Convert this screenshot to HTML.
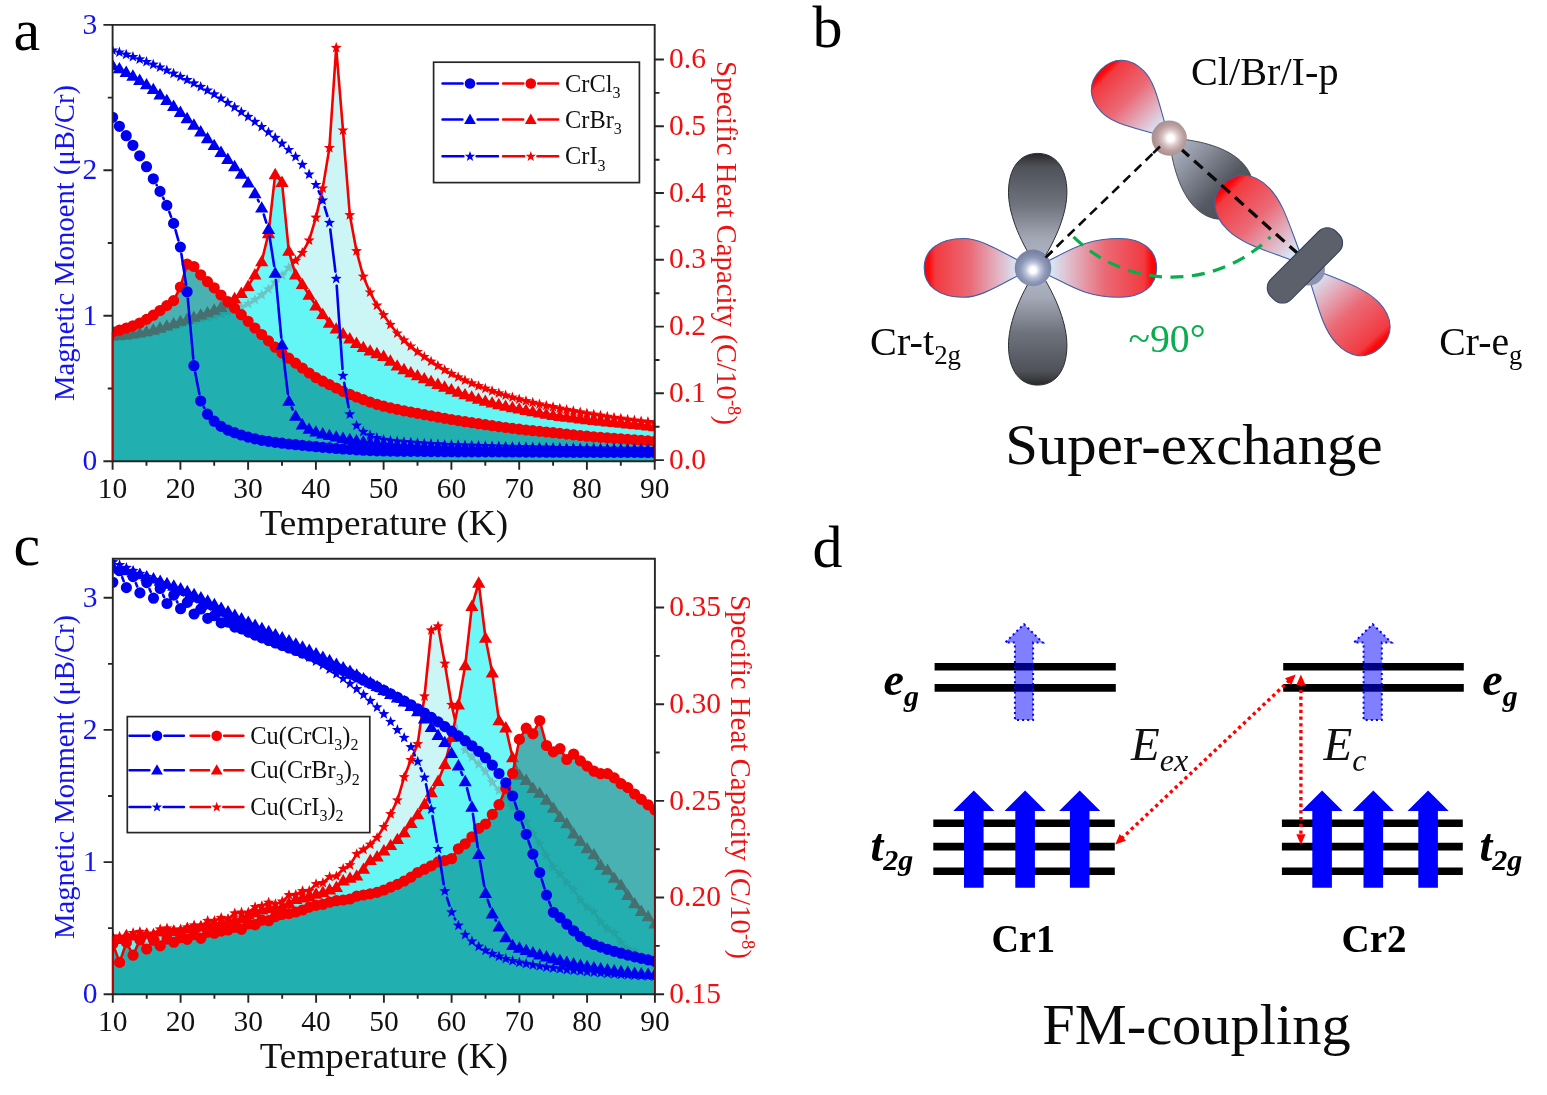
<!DOCTYPE html>
<html><head><meta charset="utf-8"><title>Figure</title>
<style>html,body{margin:0;padding:0;background:#fff}svg{display:block}</style></head>
<body>
<svg width="1547" height="1095" viewBox="0 0 1547 1095" font-family='"Liberation Serif", serif'>
<rect width="1547" height="1095" fill="#fff"/>
<clipPath id="clipa"><rect x="112.6" y="24.9" width="542.1" height="436.3"/></clipPath>
<g clip-path="url(#clipa)">
<path d="M112.6 461.2L112.6 337.6L119.4 337.0L126.2 336.2L132.9 335.2L139.7 334.1L146.5 332.9L153.3 331.5L160.0 329.6L166.8 327.6L173.6 325.6L180.4 323.8L187.1 322.1L193.9 320.6L200.7 319.1L207.5 317.5L214.2 315.8L221.0 313.7L227.8 311.5L234.6 309.2L241.3 307.0L248.1 303.7L254.9 299.7L261.7 295.0L268.5 289.2L275.2 282.6L282.0 275.3L288.8 267.8L295.6 260.6L302.3 252.8L309.1 240.4L315.9 217.6L322.7 188.4L329.4 147.9L336.2 47.7L343.0 130.3L349.8 215.0L356.5 251.0L363.3 276.5L370.1 292.4L376.9 305.4L383.6 315.0L390.4 324.7L397.2 333.4L404.0 340.3L410.8 346.3L417.5 351.8L424.3 356.9L431.1 361.5L437.9 365.8L444.6 370.0L451.4 373.8L458.2 377.2L465.0 380.3L471.7 383.3L478.5 386.1L485.3 388.6L492.1 391.0L498.8 393.3L505.6 395.4L512.4 397.4L519.2 399.2L526.0 401.0L532.7 402.6L539.5 404.2L546.3 405.7L553.1 407.1L559.8 408.5L566.6 409.8L573.4 411.0L580.2 412.2L586.9 413.4L593.7 414.5L600.5 415.6L607.3 416.6L614.0 417.6L620.8 418.6L627.6 419.5L634.4 420.3L641.1 421.2L647.9 421.9L654.7 422.7L654.7 461.2Z" fill="rgba(0,205,205,0.2)"/>
<path d="M112.6 337.6L119.4 337.0L126.2 336.2L132.9 335.2L139.7 334.1L146.5 332.9L153.3 331.5L160.0 329.6L166.8 327.6L173.6 325.6L180.4 323.8L187.1 322.1L193.9 320.6L200.7 319.1L207.5 317.5L214.2 315.8L221.0 313.7L227.8 311.5L234.6 309.2L241.3 307.0L248.1 303.7L254.9 299.7L261.7 295.0L268.5 289.2L275.2 282.6L282.0 275.3L288.8 267.8L295.6 260.6L302.3 252.8L309.1 240.4L315.9 217.6L322.7 188.4L329.4 147.9L336.2 47.7L343.0 130.3L349.8 215.0L356.5 251.0L363.3 276.5L370.1 292.4L376.9 305.4L383.6 315.0L390.4 324.7L397.2 333.4L404.0 340.3L410.8 346.3L417.5 351.8L424.3 356.9L431.1 361.5L437.9 365.8L444.6 370.0L451.4 373.8L458.2 377.2L465.0 380.3L471.7 383.3L478.5 386.1L485.3 388.6L492.1 391.0L498.8 393.3L505.6 395.4L512.4 397.4L519.2 399.2L526.0 401.0L532.7 402.6L539.5 404.2L546.3 405.7L553.1 407.1L559.8 408.5L566.6 409.8L573.4 411.0L580.2 412.2L586.9 413.4L593.7 414.5L600.5 415.6L607.3 416.6L614.0 417.6L620.8 418.6L627.6 419.5L634.4 420.3L641.1 421.2L647.9 421.9L654.7 422.7" fill="none" stroke="#f40000" stroke-width="2.6" stroke-linejoin="round"/>
<path d="M112.6 331.8L114.0 335.6L118.1 335.8L114.9 338.3L116.0 342.3L112.6 340.0L109.2 342.3L110.3 338.3L107.1 335.8L111.2 335.6ZM119.4 331.2L120.8 335.0L124.9 335.2L121.7 337.7L122.8 341.7L119.4 339.4L116.0 341.7L117.0 337.7L113.9 335.2L117.9 335.0ZM126.2 330.4L127.6 334.2L131.7 334.4L128.5 336.9L129.6 340.9L126.2 338.6L122.7 340.9L123.8 336.9L120.6 334.4L124.7 334.2ZM132.9 329.4L134.4 333.2L138.4 333.4L135.3 336.0L136.3 339.9L132.9 337.7L129.5 339.9L130.6 336.0L127.4 333.4L131.5 333.2ZM139.7 328.3L141.1 332.1L145.2 332.3L142.0 334.9L143.1 338.8L139.7 336.6L136.3 338.8L137.4 334.9L134.2 332.3L138.3 332.1ZM146.5 327.1L147.9 330.9L152.0 331.1L148.8 333.7L149.9 337.6L146.5 335.4L143.1 337.6L144.2 333.7L141.0 331.1L145.0 330.9ZM153.3 325.7L154.7 329.5L158.8 329.7L155.6 332.2L156.7 336.2L153.3 333.9L149.8 336.2L150.9 332.2L147.7 329.7L151.8 329.5ZM160.0 323.8L161.5 327.7L165.5 327.8L162.4 330.4L163.4 334.3L160.0 332.1L156.6 334.3L157.7 330.4L154.5 327.8L158.6 327.7ZM166.8 321.8L168.3 325.6L172.3 325.8L169.1 328.4L170.2 332.3L166.8 330.1L163.4 332.3L164.5 328.4L161.3 325.8L165.4 325.6ZM173.6 319.8L175.0 323.6L179.1 323.8L175.9 326.4L177.0 330.3L173.6 328.1L170.2 330.3L171.3 326.4L168.1 323.8L172.1 323.6ZM180.4 318.0L181.8 321.8L185.9 322.0L182.7 324.5L183.8 328.5L180.4 326.2L177.0 328.5L178.0 324.5L174.8 322.0L178.9 321.8ZM187.1 316.3L188.6 320.2L192.7 320.3L189.5 322.9L190.5 326.8L187.1 324.6L183.7 326.8L184.8 322.9L181.6 320.3L185.7 320.2ZM193.9 314.8L195.4 318.6L199.4 318.8L196.2 321.4L197.3 325.3L193.9 323.1L190.5 325.3L191.6 321.4L188.4 318.8L192.5 318.6ZM200.7 313.3L202.1 317.1L206.2 317.3L203.0 319.9L204.1 323.8L200.7 321.6L197.3 323.8L198.4 319.9L195.2 317.3L199.3 317.1ZM207.5 311.7L208.9 315.5L213.0 315.7L209.8 318.3L210.9 322.2L207.5 320.0L204.1 322.2L205.1 318.3L202.0 315.7L206.0 315.5ZM214.2 310.0L215.7 313.8L219.8 314.0L216.6 316.5L217.7 320.5L214.2 318.2L210.8 320.5L211.9 316.5L208.7 314.0L212.8 313.8ZM221.0 307.9L222.5 311.7L226.5 311.9L223.4 314.5L224.4 318.4L221.0 316.2L217.6 318.4L218.7 314.5L215.5 311.9L219.6 311.7ZM227.8 305.7L229.2 309.5L233.3 309.7L230.1 312.2L231.2 316.2L227.8 313.9L224.4 316.2L225.5 312.2L222.3 309.7L226.4 309.5ZM234.6 303.4L236.0 307.2L240.1 307.4L236.9 310.0L238.0 313.9L234.6 311.7L231.2 313.9L232.2 310.0L229.1 307.4L233.1 307.2ZM241.3 301.2L242.8 305.1L246.9 305.2L243.7 307.8L244.8 311.7L241.3 309.5L237.9 311.7L239.0 307.8L235.8 305.2L239.9 305.1ZM248.1 297.9L249.6 301.7L253.6 301.9L250.5 304.5L251.5 308.4L248.1 306.1L244.7 308.4L245.8 304.5L242.6 301.9L246.7 301.7ZM254.9 293.9L256.3 297.7L260.4 297.9L257.2 300.4L258.3 304.4L254.9 302.1L251.5 304.4L252.6 300.4L249.4 297.9L253.5 297.7ZM261.7 289.2L263.1 293.0L267.2 293.2L264.0 295.7L265.1 299.7L261.7 297.4L258.3 299.7L259.3 295.7L256.2 293.2L260.2 293.0ZM268.5 283.4L269.9 287.2L274.0 287.4L270.8 290.0L271.9 293.9L268.5 291.6L265.0 293.9L266.1 290.0L262.9 287.4L267.0 287.2ZM275.2 276.8L276.7 280.6L280.7 280.8L277.6 283.4L278.6 287.3L275.2 285.1L271.8 287.3L272.9 283.4L269.7 280.8L273.8 280.6ZM282.0 269.5L283.4 273.3L287.5 273.5L284.3 276.1L285.4 280.0L282.0 277.8L278.6 280.0L279.7 276.1L276.5 273.5L280.6 273.3ZM288.8 262.0L290.2 265.8L294.3 266.0L291.1 268.5L292.2 272.5L288.8 270.2L285.4 272.5L286.5 268.5L283.3 266.0L287.3 265.8ZM295.6 254.8L297.0 258.7L301.1 258.9L297.9 261.4L299.0 265.3L295.6 263.1L292.1 265.3L293.2 261.4L290.0 258.9L294.1 258.7ZM302.3 247.0L303.8 250.8L307.9 251.0L304.7 253.6L305.7 257.5L302.3 255.2L298.9 257.5L300.0 253.6L296.8 251.0L300.9 250.8ZM309.1 234.6L310.6 238.5L314.6 238.6L311.4 241.2L312.5 245.1L309.1 242.9L305.7 245.1L306.8 241.2L303.6 238.6L307.7 238.5ZM315.9 211.8L317.3 215.6L321.4 215.8L318.2 218.4L319.3 222.3L315.9 220.0L312.5 222.3L313.6 218.4L310.4 215.8L314.4 215.6ZM322.7 182.6L324.1 186.4L328.2 186.6L325.0 189.1L326.1 193.1L322.7 190.8L319.3 193.1L320.3 189.1L317.1 186.6L321.2 186.4ZM329.4 142.1L330.9 146.0L335.0 146.1L331.8 148.7L332.8 152.6L329.4 150.4L326.0 152.6L327.1 148.7L323.9 146.1L328.0 146.0ZM336.2 41.9L337.7 45.8L341.7 45.9L338.5 48.5L339.6 52.4L336.2 50.2L332.8 52.4L333.9 48.5L330.7 45.9L334.8 45.8ZM343.0 124.5L344.4 128.4L348.5 128.5L345.3 131.1L346.4 135.0L343.0 132.8L339.6 135.0L340.7 131.1L337.5 128.5L341.6 128.4ZM349.8 209.2L351.2 213.0L355.3 213.2L352.1 215.7L353.2 219.7L349.8 217.4L346.4 219.7L347.4 215.7L344.3 213.2L348.3 213.0ZM356.5 245.2L358.0 249.1L362.1 249.3L358.9 251.8L360.0 255.7L356.5 253.5L353.1 255.7L354.2 251.8L351.0 249.3L355.1 249.1ZM363.3 270.7L364.8 274.5L368.8 274.7L365.7 277.3L366.7 281.2L363.3 278.9L359.9 281.2L361.0 277.3L357.8 274.7L361.9 274.5ZM370.1 286.6L371.5 290.4L375.6 290.6L372.4 293.1L373.5 297.0L370.1 294.8L366.7 297.0L367.8 293.1L364.6 290.6L368.7 290.4ZM376.9 299.6L378.3 303.5L382.4 303.6L379.2 306.2L380.3 310.1L376.9 307.9L373.5 310.1L374.5 306.2L371.4 303.6L375.4 303.5ZM383.6 309.2L385.1 313.1L389.2 313.2L386.0 315.8L387.1 319.7L383.6 317.5L380.2 319.7L381.3 315.8L378.1 313.2L382.2 313.1ZM390.4 318.9L391.9 322.7L395.9 322.9L392.8 325.4L393.8 329.4L390.4 327.1L387.0 329.4L388.1 325.4L384.9 322.9L389.0 322.7ZM397.2 327.6L398.6 331.4L402.7 331.6L399.5 334.1L400.6 338.1L397.2 335.8L393.8 338.1L394.9 334.1L391.7 331.6L395.8 331.4ZM404.0 334.5L405.4 338.3L409.5 338.5L406.3 341.0L407.4 345.0L404.0 342.7L400.6 345.0L401.6 341.0L398.5 338.5L402.5 338.3ZM410.8 340.5L412.2 344.4L416.3 344.6L413.1 347.1L414.2 351.0L410.8 348.8L407.3 351.0L408.4 347.1L405.2 344.6L409.3 344.4ZM417.5 346.0L419.0 349.9L423.0 350.0L419.9 352.6L420.9 356.5L417.5 354.3L414.1 356.5L415.2 352.6L412.0 350.0L416.1 349.9ZM424.3 351.1L425.7 354.9L429.8 355.1L426.6 357.6L427.7 361.6L424.3 359.3L420.9 361.6L422.0 357.6L418.8 355.1L422.9 354.9ZM431.1 355.7L432.5 359.5L436.6 359.7L433.4 362.2L434.5 366.1L431.1 363.9L427.7 366.1L428.8 362.2L425.6 359.7L429.6 359.5ZM437.9 360.0L439.3 363.8L443.4 364.0L440.2 366.6L441.3 370.5L437.9 368.2L434.5 370.5L435.5 366.6L432.3 364.0L436.4 363.8ZM444.6 364.2L446.1 368.0L450.2 368.2L447.0 370.8L448.0 374.7L444.6 372.4L441.2 374.7L442.3 370.8L439.1 368.2L443.2 368.0ZM451.4 368.0L452.9 371.8L456.9 372.0L453.7 374.6L454.8 378.5L451.4 376.2L448.0 378.5L449.1 374.6L445.9 372.0L450.0 371.8ZM458.2 371.4L459.6 375.2L463.7 375.4L460.5 377.9L461.6 381.9L458.2 379.6L454.8 381.9L455.9 377.9L452.7 375.4L456.7 375.2ZM465.0 374.5L466.4 378.4L470.5 378.5L467.3 381.1L468.4 385.0L465.0 382.8L461.6 385.0L462.6 381.1L459.4 378.5L463.5 378.4ZM471.7 377.5L473.2 381.3L477.3 381.5L474.1 384.1L475.2 388.0L471.7 385.7L468.3 388.0L469.4 384.1L466.2 381.5L470.3 381.3ZM478.5 380.3L480.0 384.1L484.0 384.3L480.8 386.8L481.9 390.8L478.5 388.5L475.1 390.8L476.2 386.8L473.0 384.3L477.1 384.1ZM485.3 382.8L486.7 386.6L490.8 386.8L487.6 389.4L488.7 393.3L485.3 391.1L481.9 393.3L483.0 389.4L479.8 386.8L483.9 386.6ZM492.1 385.2L493.5 389.0L497.6 389.2L494.4 391.8L495.5 395.7L492.1 393.5L488.7 395.7L489.7 391.8L486.6 389.2L490.6 389.0ZM498.8 387.5L500.3 391.3L504.4 391.5L501.2 394.0L502.3 398.0L498.8 395.7L495.4 398.0L496.5 394.0L493.3 391.5L497.4 391.3ZM505.6 389.6L507.1 393.4L511.1 393.6L508.0 396.2L509.0 400.1L505.6 397.8L502.2 400.1L503.3 396.2L500.1 393.6L504.2 393.4ZM512.4 391.6L513.8 395.4L517.9 395.6L514.7 398.1L515.8 402.1L512.4 399.8L509.0 402.1L510.1 398.1L506.9 395.6L511.0 395.4ZM519.2 393.4L520.6 397.3L524.7 397.5L521.5 400.0L522.6 403.9L519.2 401.7L515.8 403.9L516.8 400.0L513.7 397.5L517.7 397.3ZM526.0 395.2L527.4 399.0L531.5 399.2L528.3 401.8L529.4 405.7L526.0 403.4L522.5 405.7L523.6 401.8L520.4 399.2L524.5 399.0ZM532.7 396.8L534.2 400.7L538.2 400.8L535.1 403.4L536.1 407.3L532.7 405.1L529.3 407.3L530.4 403.4L527.2 400.8L531.3 400.7ZM539.5 398.4L540.9 402.2L545.0 402.4L541.8 405.0L542.9 408.9L539.5 406.6L536.1 408.9L537.2 405.0L534.0 402.4L538.1 402.2ZM546.3 399.9L547.7 403.7L551.8 403.9L548.6 406.4L549.7 410.4L546.3 408.1L542.9 410.4L543.9 406.4L540.8 403.9L544.8 403.7ZM553.1 401.3L554.5 405.1L558.6 405.3L555.4 407.9L556.5 411.8L553.1 409.5L549.6 411.8L550.7 407.9L547.5 405.3L551.6 405.1ZM559.8 402.7L561.3 406.5L565.3 406.7L562.2 409.2L563.2 413.2L559.8 410.9L556.4 413.2L557.5 409.2L554.3 406.7L558.4 406.5ZM566.6 404.0L568.0 407.8L572.1 408.0L568.9 410.5L570.0 414.4L566.6 412.2L563.2 414.4L564.3 410.5L561.1 408.0L565.2 407.8ZM573.4 405.2L574.8 409.0L578.9 409.2L575.7 411.8L576.8 415.7L573.4 413.4L570.0 415.7L571.1 411.8L567.9 409.2L571.9 409.0ZM580.2 406.4L581.6 410.2L585.7 410.4L582.5 413.0L583.6 416.9L580.2 414.6L576.8 416.9L577.8 413.0L574.6 410.4L578.7 410.2ZM586.9 407.6L588.4 411.4L592.5 411.6L589.3 414.1L590.3 418.0L586.9 415.8L583.5 418.0L584.6 414.1L581.4 411.6L585.5 411.4ZM593.7 408.7L595.2 412.5L599.2 412.7L596.0 415.2L597.1 419.2L593.7 416.9L590.3 419.2L591.4 415.2L588.2 412.7L592.3 412.5ZM600.5 409.8L601.9 413.6L606.0 413.8L602.8 416.3L603.9 420.3L600.5 418.0L597.1 420.3L598.2 416.3L595.0 413.8L599.0 413.6ZM607.3 410.8L608.7 414.7L612.8 414.8L609.6 417.4L610.7 421.3L607.3 419.1L603.9 421.3L604.9 417.4L601.8 414.8L605.8 414.7ZM614.0 411.8L615.5 415.7L619.6 415.8L616.4 418.4L617.5 422.3L614.0 420.1L610.6 422.3L611.7 418.4L608.5 415.8L612.6 415.7ZM620.8 412.8L622.3 416.6L626.3 416.8L623.1 419.3L624.2 423.3L620.8 421.0L617.4 423.3L618.5 419.3L615.3 416.8L619.4 416.6ZM627.6 413.7L629.0 417.5L633.1 417.7L629.9 420.2L631.0 424.2L627.6 421.9L624.2 424.2L625.3 420.2L622.1 417.7L626.2 417.5ZM634.4 414.5L635.8 418.4L639.9 418.6L636.7 421.1L637.8 425.0L634.4 422.8L631.0 425.0L632.0 421.1L628.9 418.6L632.9 418.4ZM641.1 415.4L642.6 419.2L646.7 419.4L643.5 421.9L644.6 425.9L641.1 423.6L637.7 425.9L638.8 421.9L635.6 419.4L639.7 419.2ZM647.9 416.1L649.4 420.0L653.4 420.1L650.3 422.7L651.3 426.6L647.9 424.4L644.5 426.6L645.6 422.7L642.4 420.1L646.5 420.0ZM654.7 416.9L656.1 420.7L660.2 420.9L657.0 423.4L658.1 427.4L654.7 425.1L651.3 427.4L652.4 423.4L649.2 420.9L653.3 420.7Z" fill="#f40000"/>
<path d="M112.6 461.2L112.6 335.8L119.4 335.3L126.2 334.7L132.9 333.8L139.7 332.7L146.5 331.5L153.3 329.9L160.0 327.9L166.8 325.8L173.6 323.5L180.4 321.3L187.1 319.2L193.9 317.0L200.7 314.8L207.5 312.5L214.2 309.9L221.0 307.2L227.8 303.7L234.6 298.5L241.3 293.2L248.1 286.1L254.9 274.8L261.7 261.5L268.5 233.5L275.2 174.4L282.0 182.3L288.8 251.0L295.6 274.8L302.3 284.4L309.1 295.0L315.9 305.6L322.7 314.3L329.4 323.0L336.2 328.8L343.0 333.7L349.8 338.7L356.5 343.3L363.3 347.3L370.1 350.8L376.9 353.4L383.6 356.2L390.4 360.9L397.2 365.8L404.0 369.4L410.8 372.5L417.5 375.5L424.3 378.5L431.1 381.4L437.9 384.2L444.6 386.9L451.4 389.5L458.2 392.0L465.0 394.5L471.7 396.8L478.5 399.0L485.3 401.0L492.1 402.8L498.8 404.4L505.6 406.0L512.4 407.4L519.2 408.8L526.0 410.2L532.7 411.6L539.5 412.8L546.3 414.0L553.1 415.1L559.8 416.1L566.6 417.0L573.4 417.9L580.2 418.7L586.9 419.5L593.7 420.2L600.5 420.9L607.3 421.6L614.0 422.3L620.8 423.0L627.6 423.6L634.4 424.3L641.1 425.0L647.9 425.7L654.7 426.4L654.7 461.2Z" fill="rgba(74,245,245,0.80)"/>
<path d="M112.6 335.8L119.4 335.3L126.2 334.7L132.9 333.8L139.7 332.7L146.5 331.5L153.3 329.9L160.0 327.9L166.8 325.8L173.6 323.5L180.4 321.3L187.1 319.2L193.9 317.0L200.7 314.8L207.5 312.5L214.2 309.9L221.0 307.2L227.8 303.7L234.6 298.5L241.3 293.2L248.1 286.1L254.9 274.8L261.7 261.5L268.5 233.5L275.2 174.4L282.0 182.3L288.8 251.0L295.6 274.8L302.3 284.4L309.1 295.0L315.9 305.6L322.7 314.3L329.4 323.0L336.2 328.8L343.0 333.7L349.8 338.7L356.5 343.3L363.3 347.3L370.1 350.8L376.9 353.4L383.6 356.2L390.4 360.9L397.2 365.8L404.0 369.4L410.8 372.5L417.5 375.5L424.3 378.5L431.1 381.4L437.9 384.2L444.6 386.9L451.4 389.5L458.2 392.0L465.0 394.5L471.7 396.8L478.5 399.0L485.3 401.0L492.1 402.8L498.8 404.4L505.6 406.0L512.4 407.4L519.2 408.8L526.0 410.2L532.7 411.6L539.5 412.8L546.3 414.0L553.1 415.1L559.8 416.1L566.6 417.0L573.4 417.9L580.2 418.7L586.9 419.5L593.7 420.2L600.5 420.9L607.3 421.6L614.0 422.3L620.8 423.0L627.6 423.6L634.4 424.3L641.1 425.0L647.9 425.7L654.7 426.4" fill="none" stroke="#f40000" stroke-width="2.6" stroke-linejoin="round"/>
<path d="M112.6 329.2L106.0 340.6L119.2 340.6ZM119.4 328.7L112.8 340.1L126.0 340.1ZM126.2 328.1L119.6 339.5L132.8 339.5ZM132.9 327.2L126.3 338.6L139.5 338.6ZM139.7 326.1L133.1 337.5L146.3 337.5ZM146.5 324.9L139.9 336.3L153.1 336.3ZM153.3 323.3L146.7 334.7L159.9 334.7ZM160.0 321.3L153.4 332.7L166.6 332.7ZM166.8 319.2L160.2 330.6L173.4 330.6ZM173.6 316.9L167.0 328.3L180.2 328.3ZM180.4 314.7L173.8 326.1L187.0 326.1ZM187.1 312.6L180.5 324.0L193.7 324.0ZM193.9 310.4L187.3 321.8L200.5 321.8ZM200.7 308.2L194.1 319.6L207.3 319.6ZM207.5 305.9L200.9 317.3L214.1 317.3ZM214.2 303.3L207.6 314.7L220.8 314.7ZM221.0 300.5L214.4 311.9L227.6 311.9ZM227.8 297.1L221.2 308.5L234.4 308.5ZM234.6 291.8L228.0 303.2L241.2 303.2ZM241.3 286.6L234.7 298.0L247.9 298.0ZM248.1 279.5L241.5 290.9L254.7 290.9ZM254.9 268.1L248.3 279.5L261.5 279.5ZM261.7 254.9L255.1 266.3L268.3 266.3ZM268.5 226.8L261.9 238.2L275.1 238.2ZM275.2 167.8L268.6 179.2L281.8 179.2ZM282.0 175.6L275.4 187.0L288.6 187.0ZM288.8 244.4L282.2 255.8L295.4 255.8ZM295.6 268.1L289.0 279.5L302.2 279.5ZM302.3 277.7L295.7 289.1L308.9 289.1ZM309.1 288.4L302.5 299.8L315.7 299.8ZM315.9 299.0L309.3 310.4L322.5 310.4ZM322.7 307.7L316.1 319.1L329.3 319.1ZM329.4 316.4L322.8 327.8L336.0 327.8ZM336.2 322.2L329.6 333.6L342.8 333.6ZM343.0 327.0L336.4 338.4L349.6 338.4ZM349.8 332.0L343.2 343.4L356.4 343.4ZM356.5 336.6L349.9 348.0L363.1 348.0ZM363.3 340.7L356.7 352.1L369.9 352.1ZM370.1 344.2L363.5 355.6L376.7 355.6ZM376.9 346.8L370.3 358.2L383.5 358.2ZM383.6 349.6L377.0 361.0L390.2 361.0ZM390.4 354.3L383.8 365.7L397.0 365.7ZM397.2 359.2L390.6 370.6L403.8 370.6ZM404.0 362.8L397.4 374.2L410.6 374.2ZM410.8 365.9L404.2 377.3L417.4 377.3ZM417.5 368.9L410.9 380.3L424.1 380.3ZM424.3 371.9L417.7 383.3L430.9 383.3ZM431.1 374.8L424.5 386.2L437.7 386.2ZM437.9 377.6L431.3 389.0L444.5 389.0ZM444.6 380.3L438.0 391.7L451.2 391.7ZM451.4 382.9L444.8 394.3L458.0 394.3ZM458.2 385.4L451.6 396.8L464.8 396.8ZM465.0 387.9L458.4 399.3L471.6 399.3ZM471.7 390.2L465.1 401.6L478.3 401.6ZM478.5 392.4L471.9 403.8L485.1 403.8ZM485.3 394.4L478.7 405.8L491.9 405.8ZM492.1 396.2L485.5 407.6L498.7 407.6ZM498.8 397.8L492.2 409.2L505.4 409.2ZM505.6 399.4L499.0 410.8L512.2 410.8ZM512.4 400.8L505.8 412.2L519.0 412.2ZM519.2 402.2L512.6 413.6L525.8 413.6ZM526.0 403.6L519.4 415.0L532.6 415.0ZM532.7 404.9L526.1 416.3L539.3 416.3ZM539.5 406.2L532.9 417.6L546.1 417.6ZM546.3 407.4L539.7 418.8L552.9 418.8ZM553.1 408.5L546.5 419.9L559.7 419.9ZM559.8 409.5L553.2 420.9L566.4 420.9ZM566.6 410.4L560.0 421.8L573.2 421.8ZM573.4 411.2L566.8 422.6L580.0 422.6ZM580.2 412.1L573.6 423.5L586.8 423.5ZM586.9 412.8L580.3 424.2L593.5 424.2ZM593.7 413.6L587.1 425.0L600.3 425.0ZM600.5 414.3L593.9 425.7L607.1 425.7ZM607.3 415.0L600.7 426.4L613.9 426.4ZM614.0 415.7L607.4 427.1L620.6 427.1ZM620.8 416.3L614.2 427.7L627.4 427.7ZM627.6 417.0L621.0 428.4L634.2 428.4ZM634.4 417.7L627.8 429.1L641.0 429.1ZM641.1 418.4L634.5 429.8L647.7 429.8ZM647.9 419.1L641.3 430.5L654.5 430.5ZM654.7 419.8L648.1 431.2L661.3 431.2Z" fill="#f40000"/>
<path d="M112.6 461.2L112.6 331.9L119.4 330.2L126.2 328.1L132.9 325.8L139.7 323.0L146.5 319.4L153.3 315.2L160.0 310.5L166.8 305.6L173.6 300.6L180.4 287.0L187.1 264.1L193.9 266.5L200.7 274.8L207.5 281.7L214.2 287.8L221.0 295.0L227.8 301.6L234.6 308.1L241.3 314.7L248.1 321.3L254.9 328.0L261.7 334.5L268.5 340.9L275.2 347.2L282.0 353.0L288.8 358.2L295.6 363.1L302.3 368.0L309.1 373.0L315.9 377.6L322.7 381.2L329.4 384.6L336.2 388.0L343.0 391.3L349.8 394.3L356.5 397.0L363.3 399.6L370.1 402.1L376.9 404.3L383.6 406.2L390.4 407.9L397.2 409.4L404.0 410.8L410.8 412.1L417.5 413.4L424.3 414.6L431.1 415.9L437.9 417.1L444.6 418.3L451.4 419.5L458.2 420.6L465.0 421.7L471.7 422.7L478.5 423.7L485.3 424.7L492.1 425.7L498.8 426.6L505.6 427.5L512.4 428.4L519.2 429.2L526.0 430.0L532.7 430.7L539.5 431.3L546.3 432.0L553.1 432.7L559.8 433.4L566.6 434.1L573.4 434.9L580.2 435.6L586.9 436.2L593.7 436.8L600.5 437.3L607.3 437.8L614.0 438.3L620.8 438.8L627.6 439.3L634.4 439.9L641.1 440.4L647.9 440.9L654.7 441.4L654.7 461.2Z" fill="rgba(10,150,150,0.74)"/>
<path d="M112.6 331.9L119.4 330.2L126.2 328.1L132.9 325.8L139.7 323.0L146.5 319.4L153.3 315.2L160.0 310.5L166.8 305.6L173.6 300.6L180.4 287.0L187.1 264.1L193.9 266.5L200.7 274.8L207.5 281.7L214.2 287.8L221.0 295.0L227.8 301.6L234.6 308.1L241.3 314.7L248.1 321.3L254.9 328.0L261.7 334.5L268.5 340.9L275.2 347.2L282.0 353.0L288.8 358.2L295.6 363.1L302.3 368.0L309.1 373.0L315.9 377.6L322.7 381.2L329.4 384.6L336.2 388.0L343.0 391.3L349.8 394.3L356.5 397.0L363.3 399.6L370.1 402.1L376.9 404.3L383.6 406.2L390.4 407.9L397.2 409.4L404.0 410.8L410.8 412.1L417.5 413.4L424.3 414.6L431.1 415.9L437.9 417.1L444.6 418.3L451.4 419.5L458.2 420.6L465.0 421.7L471.7 422.7L478.5 423.7L485.3 424.7L492.1 425.7L498.8 426.6L505.6 427.5L512.4 428.4L519.2 429.2L526.0 430.0L532.7 430.7L539.5 431.3L546.3 432.0L553.1 432.7L559.8 433.4L566.6 434.1L573.4 434.9L580.2 435.6L586.9 436.2L593.7 436.8L600.5 437.3L607.3 437.8L614.0 438.3L620.8 438.8L627.6 439.3L634.4 439.9L641.1 440.4L647.9 440.9L654.7 441.4" fill="none" stroke="#f40000" stroke-width="2.6" stroke-linejoin="round"/>
<path d="M112.6 331.9m-5.6 0a5.6 5.6 0 1 0 11.2 0a5.6 5.6 0 1 0 -11.2 0ZM119.4 330.2m-5.6 0a5.6 5.6 0 1 0 11.2 0a5.6 5.6 0 1 0 -11.2 0ZM126.2 328.1m-5.6 0a5.6 5.6 0 1 0 11.2 0a5.6 5.6 0 1 0 -11.2 0ZM132.9 325.8m-5.6 0a5.6 5.6 0 1 0 11.2 0a5.6 5.6 0 1 0 -11.2 0ZM139.7 323.0m-5.6 0a5.6 5.6 0 1 0 11.2 0a5.6 5.6 0 1 0 -11.2 0ZM146.5 319.4m-5.6 0a5.6 5.6 0 1 0 11.2 0a5.6 5.6 0 1 0 -11.2 0ZM153.3 315.2m-5.6 0a5.6 5.6 0 1 0 11.2 0a5.6 5.6 0 1 0 -11.2 0ZM160.0 310.5m-5.6 0a5.6 5.6 0 1 0 11.2 0a5.6 5.6 0 1 0 -11.2 0ZM166.8 305.6m-5.6 0a5.6 5.6 0 1 0 11.2 0a5.6 5.6 0 1 0 -11.2 0ZM173.6 300.6m-5.6 0a5.6 5.6 0 1 0 11.2 0a5.6 5.6 0 1 0 -11.2 0ZM180.4 287.0m-5.6 0a5.6 5.6 0 1 0 11.2 0a5.6 5.6 0 1 0 -11.2 0ZM187.1 264.1m-5.6 0a5.6 5.6 0 1 0 11.2 0a5.6 5.6 0 1 0 -11.2 0ZM193.9 266.5m-5.6 0a5.6 5.6 0 1 0 11.2 0a5.6 5.6 0 1 0 -11.2 0ZM200.7 274.8m-5.6 0a5.6 5.6 0 1 0 11.2 0a5.6 5.6 0 1 0 -11.2 0ZM207.5 281.7m-5.6 0a5.6 5.6 0 1 0 11.2 0a5.6 5.6 0 1 0 -11.2 0ZM214.2 287.8m-5.6 0a5.6 5.6 0 1 0 11.2 0a5.6 5.6 0 1 0 -11.2 0ZM221.0 295.0m-5.6 0a5.6 5.6 0 1 0 11.2 0a5.6 5.6 0 1 0 -11.2 0ZM227.8 301.6m-5.6 0a5.6 5.6 0 1 0 11.2 0a5.6 5.6 0 1 0 -11.2 0ZM234.6 308.1m-5.6 0a5.6 5.6 0 1 0 11.2 0a5.6 5.6 0 1 0 -11.2 0ZM241.3 314.7m-5.6 0a5.6 5.6 0 1 0 11.2 0a5.6 5.6 0 1 0 -11.2 0ZM248.1 321.3m-5.6 0a5.6 5.6 0 1 0 11.2 0a5.6 5.6 0 1 0 -11.2 0ZM254.9 328.0m-5.6 0a5.6 5.6 0 1 0 11.2 0a5.6 5.6 0 1 0 -11.2 0ZM261.7 334.5m-5.6 0a5.6 5.6 0 1 0 11.2 0a5.6 5.6 0 1 0 -11.2 0ZM268.5 340.9m-5.6 0a5.6 5.6 0 1 0 11.2 0a5.6 5.6 0 1 0 -11.2 0ZM275.2 347.2m-5.6 0a5.6 5.6 0 1 0 11.2 0a5.6 5.6 0 1 0 -11.2 0ZM282.0 353.0m-5.6 0a5.6 5.6 0 1 0 11.2 0a5.6 5.6 0 1 0 -11.2 0ZM288.8 358.2m-5.6 0a5.6 5.6 0 1 0 11.2 0a5.6 5.6 0 1 0 -11.2 0ZM295.6 363.1m-5.6 0a5.6 5.6 0 1 0 11.2 0a5.6 5.6 0 1 0 -11.2 0ZM302.3 368.0m-5.6 0a5.6 5.6 0 1 0 11.2 0a5.6 5.6 0 1 0 -11.2 0ZM309.1 373.0m-5.6 0a5.6 5.6 0 1 0 11.2 0a5.6 5.6 0 1 0 -11.2 0ZM315.9 377.6m-5.6 0a5.6 5.6 0 1 0 11.2 0a5.6 5.6 0 1 0 -11.2 0ZM322.7 381.2m-5.6 0a5.6 5.6 0 1 0 11.2 0a5.6 5.6 0 1 0 -11.2 0ZM329.4 384.6m-5.6 0a5.6 5.6 0 1 0 11.2 0a5.6 5.6 0 1 0 -11.2 0ZM336.2 388.0m-5.6 0a5.6 5.6 0 1 0 11.2 0a5.6 5.6 0 1 0 -11.2 0ZM343.0 391.3m-5.6 0a5.6 5.6 0 1 0 11.2 0a5.6 5.6 0 1 0 -11.2 0ZM349.8 394.3m-5.6 0a5.6 5.6 0 1 0 11.2 0a5.6 5.6 0 1 0 -11.2 0ZM356.5 397.0m-5.6 0a5.6 5.6 0 1 0 11.2 0a5.6 5.6 0 1 0 -11.2 0ZM363.3 399.6m-5.6 0a5.6 5.6 0 1 0 11.2 0a5.6 5.6 0 1 0 -11.2 0ZM370.1 402.1m-5.6 0a5.6 5.6 0 1 0 11.2 0a5.6 5.6 0 1 0 -11.2 0ZM376.9 404.3m-5.6 0a5.6 5.6 0 1 0 11.2 0a5.6 5.6 0 1 0 -11.2 0ZM383.6 406.2m-5.6 0a5.6 5.6 0 1 0 11.2 0a5.6 5.6 0 1 0 -11.2 0ZM390.4 407.9m-5.6 0a5.6 5.6 0 1 0 11.2 0a5.6 5.6 0 1 0 -11.2 0ZM397.2 409.4m-5.6 0a5.6 5.6 0 1 0 11.2 0a5.6 5.6 0 1 0 -11.2 0ZM404.0 410.8m-5.6 0a5.6 5.6 0 1 0 11.2 0a5.6 5.6 0 1 0 -11.2 0ZM410.8 412.1m-5.6 0a5.6 5.6 0 1 0 11.2 0a5.6 5.6 0 1 0 -11.2 0ZM417.5 413.4m-5.6 0a5.6 5.6 0 1 0 11.2 0a5.6 5.6 0 1 0 -11.2 0ZM424.3 414.6m-5.6 0a5.6 5.6 0 1 0 11.2 0a5.6 5.6 0 1 0 -11.2 0ZM431.1 415.9m-5.6 0a5.6 5.6 0 1 0 11.2 0a5.6 5.6 0 1 0 -11.2 0ZM437.9 417.1m-5.6 0a5.6 5.6 0 1 0 11.2 0a5.6 5.6 0 1 0 -11.2 0ZM444.6 418.3m-5.6 0a5.6 5.6 0 1 0 11.2 0a5.6 5.6 0 1 0 -11.2 0ZM451.4 419.5m-5.6 0a5.6 5.6 0 1 0 11.2 0a5.6 5.6 0 1 0 -11.2 0ZM458.2 420.6m-5.6 0a5.6 5.6 0 1 0 11.2 0a5.6 5.6 0 1 0 -11.2 0ZM465.0 421.7m-5.6 0a5.6 5.6 0 1 0 11.2 0a5.6 5.6 0 1 0 -11.2 0ZM471.7 422.7m-5.6 0a5.6 5.6 0 1 0 11.2 0a5.6 5.6 0 1 0 -11.2 0ZM478.5 423.7m-5.6 0a5.6 5.6 0 1 0 11.2 0a5.6 5.6 0 1 0 -11.2 0ZM485.3 424.7m-5.6 0a5.6 5.6 0 1 0 11.2 0a5.6 5.6 0 1 0 -11.2 0ZM492.1 425.7m-5.6 0a5.6 5.6 0 1 0 11.2 0a5.6 5.6 0 1 0 -11.2 0ZM498.8 426.6m-5.6 0a5.6 5.6 0 1 0 11.2 0a5.6 5.6 0 1 0 -11.2 0ZM505.6 427.5m-5.6 0a5.6 5.6 0 1 0 11.2 0a5.6 5.6 0 1 0 -11.2 0ZM512.4 428.4m-5.6 0a5.6 5.6 0 1 0 11.2 0a5.6 5.6 0 1 0 -11.2 0ZM519.2 429.2m-5.6 0a5.6 5.6 0 1 0 11.2 0a5.6 5.6 0 1 0 -11.2 0ZM526.0 430.0m-5.6 0a5.6 5.6 0 1 0 11.2 0a5.6 5.6 0 1 0 -11.2 0ZM532.7 430.7m-5.6 0a5.6 5.6 0 1 0 11.2 0a5.6 5.6 0 1 0 -11.2 0ZM539.5 431.3m-5.6 0a5.6 5.6 0 1 0 11.2 0a5.6 5.6 0 1 0 -11.2 0ZM546.3 432.0m-5.6 0a5.6 5.6 0 1 0 11.2 0a5.6 5.6 0 1 0 -11.2 0ZM553.1 432.7m-5.6 0a5.6 5.6 0 1 0 11.2 0a5.6 5.6 0 1 0 -11.2 0ZM559.8 433.4m-5.6 0a5.6 5.6 0 1 0 11.2 0a5.6 5.6 0 1 0 -11.2 0ZM566.6 434.1m-5.6 0a5.6 5.6 0 1 0 11.2 0a5.6 5.6 0 1 0 -11.2 0ZM573.4 434.9m-5.6 0a5.6 5.6 0 1 0 11.2 0a5.6 5.6 0 1 0 -11.2 0ZM580.2 435.6m-5.6 0a5.6 5.6 0 1 0 11.2 0a5.6 5.6 0 1 0 -11.2 0ZM586.9 436.2m-5.6 0a5.6 5.6 0 1 0 11.2 0a5.6 5.6 0 1 0 -11.2 0ZM593.7 436.8m-5.6 0a5.6 5.6 0 1 0 11.2 0a5.6 5.6 0 1 0 -11.2 0ZM600.5 437.3m-5.6 0a5.6 5.6 0 1 0 11.2 0a5.6 5.6 0 1 0 -11.2 0ZM607.3 437.8m-5.6 0a5.6 5.6 0 1 0 11.2 0a5.6 5.6 0 1 0 -11.2 0ZM614.0 438.3m-5.6 0a5.6 5.6 0 1 0 11.2 0a5.6 5.6 0 1 0 -11.2 0ZM620.8 438.8m-5.6 0a5.6 5.6 0 1 0 11.2 0a5.6 5.6 0 1 0 -11.2 0ZM627.6 439.3m-5.6 0a5.6 5.6 0 1 0 11.2 0a5.6 5.6 0 1 0 -11.2 0ZM634.4 439.9m-5.6 0a5.6 5.6 0 1 0 11.2 0a5.6 5.6 0 1 0 -11.2 0ZM641.1 440.4m-5.6 0a5.6 5.6 0 1 0 11.2 0a5.6 5.6 0 1 0 -11.2 0ZM647.9 440.9m-5.6 0a5.6 5.6 0 1 0 11.2 0a5.6 5.6 0 1 0 -11.2 0ZM654.7 441.4m-5.6 0a5.6 5.6 0 1 0 11.2 0a5.6 5.6 0 1 0 -11.2 0Z" fill="#f40000"/>
<path d="M156.6 184.9L156.7 185.3M163.1 197.7L163.8 199.1M169.3 211.9L171.1 216.9M175.5 230.1L178.4 240.4M181.4 254.0L186.1 284.8M187.8 298.7L193.3 358.7M195.2 372.5L199.4 394.1M203.9 407.2L204.3 408.0" fill="none" stroke="#0000f0" stroke-width="2.6" stroke-linecap="round"/>
<path d="M112.6 117.3m-5.6 0a5.6 5.6 0 1 0 11.2 0a5.6 5.6 0 1 0 -11.2 0ZM119.4 126.3m-5.6 0a5.6 5.6 0 1 0 11.2 0a5.6 5.6 0 1 0 -11.2 0ZM126.2 135.7m-5.6 0a5.6 5.6 0 1 0 11.2 0a5.6 5.6 0 1 0 -11.2 0ZM132.9 145.3m-5.6 0a5.6 5.6 0 1 0 11.2 0a5.6 5.6 0 1 0 -11.2 0ZM139.7 155.8m-5.6 0a5.6 5.6 0 1 0 11.2 0a5.6 5.6 0 1 0 -11.2 0ZM146.5 166.7m-5.6 0a5.6 5.6 0 1 0 11.2 0a5.6 5.6 0 1 0 -11.2 0ZM153.3 178.8m-5.6 0a5.6 5.6 0 1 0 11.2 0a5.6 5.6 0 1 0 -11.2 0ZM160.0 191.4m-5.6 0a5.6 5.6 0 1 0 11.2 0a5.6 5.6 0 1 0 -11.2 0ZM166.8 205.4m-5.6 0a5.6 5.6 0 1 0 11.2 0a5.6 5.6 0 1 0 -11.2 0ZM173.6 223.4m-5.6 0a5.6 5.6 0 1 0 11.2 0a5.6 5.6 0 1 0 -11.2 0ZM180.4 247.1m-5.6 0a5.6 5.6 0 1 0 11.2 0a5.6 5.6 0 1 0 -11.2 0ZM187.1 291.8m-5.6 0a5.6 5.6 0 1 0 11.2 0a5.6 5.6 0 1 0 -11.2 0ZM193.9 365.7m-5.6 0a5.6 5.6 0 1 0 11.2 0a5.6 5.6 0 1 0 -11.2 0ZM200.7 401.0m-5.6 0a5.6 5.6 0 1 0 11.2 0a5.6 5.6 0 1 0 -11.2 0ZM207.5 414.2m-5.6 0a5.6 5.6 0 1 0 11.2 0a5.6 5.6 0 1 0 -11.2 0ZM214.2 421.2m-5.6 0a5.6 5.6 0 1 0 11.2 0a5.6 5.6 0 1 0 -11.2 0ZM221.0 426.4m-5.6 0a5.6 5.6 0 1 0 11.2 0a5.6 5.6 0 1 0 -11.2 0ZM227.8 430.1m-5.6 0a5.6 5.6 0 1 0 11.2 0a5.6 5.6 0 1 0 -11.2 0ZM234.6 432.7m-5.6 0a5.6 5.6 0 1 0 11.2 0a5.6 5.6 0 1 0 -11.2 0ZM241.3 435.0m-5.6 0a5.6 5.6 0 1 0 11.2 0a5.6 5.6 0 1 0 -11.2 0ZM248.1 437.1m-5.6 0a5.6 5.6 0 1 0 11.2 0a5.6 5.6 0 1 0 -11.2 0ZM254.9 438.8m-5.6 0a5.6 5.6 0 1 0 11.2 0a5.6 5.6 0 1 0 -11.2 0ZM261.7 440.3m-5.6 0a5.6 5.6 0 1 0 11.2 0a5.6 5.6 0 1 0 -11.2 0ZM268.5 441.4m-5.6 0a5.6 5.6 0 1 0 11.2 0a5.6 5.6 0 1 0 -11.2 0ZM275.2 442.3m-5.6 0a5.6 5.6 0 1 0 11.2 0a5.6 5.6 0 1 0 -11.2 0ZM282.0 443.2m-5.6 0a5.6 5.6 0 1 0 11.2 0a5.6 5.6 0 1 0 -11.2 0ZM288.8 444.0m-5.6 0a5.6 5.6 0 1 0 11.2 0a5.6 5.6 0 1 0 -11.2 0ZM295.6 444.7m-5.6 0a5.6 5.6 0 1 0 11.2 0a5.6 5.6 0 1 0 -11.2 0ZM302.3 445.4m-5.6 0a5.6 5.6 0 1 0 11.2 0a5.6 5.6 0 1 0 -11.2 0ZM309.1 446.0m-5.6 0a5.6 5.6 0 1 0 11.2 0a5.6 5.6 0 1 0 -11.2 0ZM315.9 446.7m-5.6 0a5.6 5.6 0 1 0 11.2 0a5.6 5.6 0 1 0 -11.2 0ZM322.7 447.3m-5.6 0a5.6 5.6 0 1 0 11.2 0a5.6 5.6 0 1 0 -11.2 0ZM329.4 447.9m-5.6 0a5.6 5.6 0 1 0 11.2 0a5.6 5.6 0 1 0 -11.2 0ZM336.2 448.5m-5.6 0a5.6 5.6 0 1 0 11.2 0a5.6 5.6 0 1 0 -11.2 0ZM343.0 449.0m-5.6 0a5.6 5.6 0 1 0 11.2 0a5.6 5.6 0 1 0 -11.2 0ZM349.8 449.4m-5.6 0a5.6 5.6 0 1 0 11.2 0a5.6 5.6 0 1 0 -11.2 0ZM356.5 449.8m-5.6 0a5.6 5.6 0 1 0 11.2 0a5.6 5.6 0 1 0 -11.2 0ZM363.3 450.2m-5.6 0a5.6 5.6 0 1 0 11.2 0a5.6 5.6 0 1 0 -11.2 0ZM370.1 450.6m-5.6 0a5.6 5.6 0 1 0 11.2 0a5.6 5.6 0 1 0 -11.2 0ZM376.9 450.9m-5.6 0a5.6 5.6 0 1 0 11.2 0a5.6 5.6 0 1 0 -11.2 0ZM383.6 451.0m-5.6 0a5.6 5.6 0 1 0 11.2 0a5.6 5.6 0 1 0 -11.2 0ZM390.4 451.1m-5.6 0a5.6 5.6 0 1 0 11.2 0a5.6 5.6 0 1 0 -11.2 0ZM397.2 451.2m-5.6 0a5.6 5.6 0 1 0 11.2 0a5.6 5.6 0 1 0 -11.2 0ZM404.0 451.3m-5.6 0a5.6 5.6 0 1 0 11.2 0a5.6 5.6 0 1 0 -11.2 0ZM410.8 451.4m-5.6 0a5.6 5.6 0 1 0 11.2 0a5.6 5.6 0 1 0 -11.2 0ZM417.5 451.4m-5.6 0a5.6 5.6 0 1 0 11.2 0a5.6 5.6 0 1 0 -11.2 0ZM424.3 451.5m-5.6 0a5.6 5.6 0 1 0 11.2 0a5.6 5.6 0 1 0 -11.2 0ZM431.1 451.6m-5.6 0a5.6 5.6 0 1 0 11.2 0a5.6 5.6 0 1 0 -11.2 0ZM437.9 451.6m-5.6 0a5.6 5.6 0 1 0 11.2 0a5.6 5.6 0 1 0 -11.2 0ZM444.6 451.7m-5.6 0a5.6 5.6 0 1 0 11.2 0a5.6 5.6 0 1 0 -11.2 0ZM451.4 451.7m-5.6 0a5.6 5.6 0 1 0 11.2 0a5.6 5.6 0 1 0 -11.2 0ZM458.2 451.8m-5.6 0a5.6 5.6 0 1 0 11.2 0a5.6 5.6 0 1 0 -11.2 0ZM465.0 451.8m-5.6 0a5.6 5.6 0 1 0 11.2 0a5.6 5.6 0 1 0 -11.2 0ZM471.7 451.8m-5.6 0a5.6 5.6 0 1 0 11.2 0a5.6 5.6 0 1 0 -11.2 0ZM478.5 451.9m-5.6 0a5.6 5.6 0 1 0 11.2 0a5.6 5.6 0 1 0 -11.2 0ZM485.3 451.9m-5.6 0a5.6 5.6 0 1 0 11.2 0a5.6 5.6 0 1 0 -11.2 0ZM492.1 451.9m-5.6 0a5.6 5.6 0 1 0 11.2 0a5.6 5.6 0 1 0 -11.2 0ZM498.8 451.9m-5.6 0a5.6 5.6 0 1 0 11.2 0a5.6 5.6 0 1 0 -11.2 0ZM505.6 452.0m-5.6 0a5.6 5.6 0 1 0 11.2 0a5.6 5.6 0 1 0 -11.2 0ZM512.4 452.0m-5.6 0a5.6 5.6 0 1 0 11.2 0a5.6 5.6 0 1 0 -11.2 0ZM519.2 452.0m-5.6 0a5.6 5.6 0 1 0 11.2 0a5.6 5.6 0 1 0 -11.2 0ZM526.0 452.1m-5.6 0a5.6 5.6 0 1 0 11.2 0a5.6 5.6 0 1 0 -11.2 0ZM532.7 452.1m-5.6 0a5.6 5.6 0 1 0 11.2 0a5.6 5.6 0 1 0 -11.2 0ZM539.5 452.1m-5.6 0a5.6 5.6 0 1 0 11.2 0a5.6 5.6 0 1 0 -11.2 0ZM546.3 452.2m-5.6 0a5.6 5.6 0 1 0 11.2 0a5.6 5.6 0 1 0 -11.2 0ZM553.1 452.2m-5.6 0a5.6 5.6 0 1 0 11.2 0a5.6 5.6 0 1 0 -11.2 0ZM559.8 452.2m-5.6 0a5.6 5.6 0 1 0 11.2 0a5.6 5.6 0 1 0 -11.2 0ZM566.6 452.2m-5.6 0a5.6 5.6 0 1 0 11.2 0a5.6 5.6 0 1 0 -11.2 0ZM573.4 452.3m-5.6 0a5.6 5.6 0 1 0 11.2 0a5.6 5.6 0 1 0 -11.2 0ZM580.2 452.3m-5.6 0a5.6 5.6 0 1 0 11.2 0a5.6 5.6 0 1 0 -11.2 0ZM586.9 452.3m-5.6 0a5.6 5.6 0 1 0 11.2 0a5.6 5.6 0 1 0 -11.2 0ZM593.7 452.3m-5.6 0a5.6 5.6 0 1 0 11.2 0a5.6 5.6 0 1 0 -11.2 0ZM600.5 452.4m-5.6 0a5.6 5.6 0 1 0 11.2 0a5.6 5.6 0 1 0 -11.2 0ZM607.3 452.4m-5.6 0a5.6 5.6 0 1 0 11.2 0a5.6 5.6 0 1 0 -11.2 0ZM614.0 452.4m-5.6 0a5.6 5.6 0 1 0 11.2 0a5.6 5.6 0 1 0 -11.2 0ZM620.8 452.4m-5.6 0a5.6 5.6 0 1 0 11.2 0a5.6 5.6 0 1 0 -11.2 0ZM627.6 452.4m-5.6 0a5.6 5.6 0 1 0 11.2 0a5.6 5.6 0 1 0 -11.2 0ZM634.4 452.4m-5.6 0a5.6 5.6 0 1 0 11.2 0a5.6 5.6 0 1 0 -11.2 0ZM641.1 452.5m-5.6 0a5.6 5.6 0 1 0 11.2 0a5.6 5.6 0 1 0 -11.2 0ZM647.9 452.5m-5.6 0a5.6 5.6 0 1 0 11.2 0a5.6 5.6 0 1 0 -11.2 0ZM654.7 452.5m-5.6 0a5.6 5.6 0 1 0 11.2 0a5.6 5.6 0 1 0 -11.2 0Z" fill="#0000f0"/>
<path d="M257.9 199.8L258.7 201.5M263.8 214.5L266.3 222.6M269.5 236.2L274.2 266.1M275.9 280.0L281.3 337.6M282.8 351.5L287.9 394.0M291.7 407.4L292.7 409.6" fill="none" stroke="#0000f0" stroke-width="2.6" stroke-linecap="round"/>
<path d="M112.6 58.7L106.0 70.1L119.2 70.1ZM119.4 61.9L112.8 73.3L126.0 73.3ZM126.2 65.5L119.6 76.9L132.8 76.9ZM132.9 69.3L126.3 80.7L139.5 80.7ZM139.7 73.5L133.1 84.9L146.3 84.9ZM146.5 77.9L139.9 89.3L153.1 89.3ZM153.3 82.7L146.7 94.1L159.9 94.1ZM160.0 88.0L153.4 99.4L166.6 99.4ZM166.8 93.7L160.2 105.1L173.4 105.1ZM173.6 99.5L167.0 110.9L180.2 110.9ZM180.4 105.5L173.8 116.9L187.0 116.9ZM187.1 111.8L180.5 123.2L193.7 123.2ZM193.9 118.3L187.3 129.7L200.5 129.7ZM200.7 125.0L194.1 136.4L207.3 136.4ZM207.5 131.8L200.9 143.2L214.1 143.2ZM214.2 138.7L207.6 150.1L220.8 150.1ZM221.0 145.6L214.4 157.0L227.6 157.0ZM227.8 152.6L221.2 164.0L234.4 164.0ZM234.6 159.8L228.0 171.2L241.2 171.2ZM241.3 167.4L234.7 178.8L247.9 178.8ZM248.1 176.1L241.5 187.5L254.7 187.5ZM254.9 186.8L248.3 198.2L261.5 198.2ZM261.7 201.2L255.1 212.6L268.3 212.6ZM268.5 222.6L261.9 234.0L275.1 234.0ZM275.2 266.4L268.6 277.8L281.8 277.8ZM282.0 338.0L275.4 349.4L288.6 349.4ZM288.8 394.4L282.2 405.8L295.4 405.8ZM295.6 409.4L289.0 420.8L302.2 420.8ZM302.3 418.1L295.7 429.5L308.9 429.5ZM309.1 422.4L302.5 433.8L315.7 433.8ZM315.9 425.2L309.3 436.6L322.5 436.6ZM322.7 427.1L316.1 438.5L329.3 438.5ZM329.4 428.7L322.8 440.1L336.0 440.1ZM336.2 430.2L329.6 441.6L342.8 441.6ZM343.0 431.6L336.4 443.0L349.6 443.0ZM349.8 432.8L343.2 444.2L356.4 444.2ZM356.5 433.9L349.9 445.3L363.1 445.3ZM363.3 435.0L356.7 446.4L369.9 446.4ZM370.1 436.0L363.5 447.4L376.7 447.4ZM376.9 436.8L370.3 448.2L383.5 448.2ZM383.6 437.4L377.0 448.8L390.2 448.8ZM390.4 437.9L383.8 449.3L397.0 449.3ZM397.2 438.4L390.6 449.8L403.8 449.8ZM404.0 438.8L397.4 450.2L410.6 450.2ZM410.8 439.2L404.2 450.6L417.4 450.6ZM417.5 439.5L410.9 450.9L424.1 450.9ZM424.3 439.9L417.7 451.3L430.9 451.3ZM431.1 440.1L424.5 451.5L437.7 451.5ZM437.9 440.4L431.3 451.8L444.5 451.8ZM444.6 440.6L438.0 452.0L451.2 452.0ZM451.4 440.8L444.8 452.2L458.0 452.2ZM458.2 440.9L451.6 452.3L464.8 452.3ZM465.0 441.1L458.4 452.5L471.6 452.5ZM471.7 441.3L465.1 452.7L478.3 452.7ZM478.5 441.4L471.9 452.8L485.1 452.8ZM485.3 441.6L478.7 453.0L491.9 453.0ZM492.1 441.7L485.5 453.1L498.7 453.1ZM498.8 441.9L492.2 453.3L505.4 453.3ZM505.6 442.0L499.0 453.4L512.2 453.4ZM512.4 442.1L505.8 453.5L519.0 453.5ZM519.2 442.3L512.6 453.7L525.8 453.7ZM526.0 442.4L519.4 453.8L532.6 453.8ZM532.7 442.5L526.1 453.9L539.3 453.9ZM539.5 442.6L532.9 454.0L546.1 454.0ZM546.3 442.7L539.7 454.1L552.9 454.1ZM553.1 442.8L546.5 454.2L559.7 454.2ZM559.8 442.9L553.2 454.3L566.4 454.3ZM566.6 443.0L560.0 454.4L573.2 454.4ZM573.4 443.1L566.8 454.5L580.0 454.5ZM580.2 443.2L573.6 454.6L586.8 454.6ZM586.9 443.3L580.3 454.7L593.5 454.7ZM593.7 443.4L587.1 454.8L600.3 454.8ZM600.5 443.4L593.9 454.8L607.1 454.8ZM607.3 443.5L600.7 454.9L613.9 454.9ZM614.0 443.5L607.4 454.9L620.6 454.9ZM620.8 443.6L614.2 455.0L627.4 455.0ZM627.6 443.6L621.0 455.0L634.2 455.0ZM634.4 443.6L627.8 455.0L641.0 455.0ZM641.1 443.7L634.5 455.1L647.7 455.1ZM647.9 443.7L641.3 455.1L654.5 455.1ZM654.7 443.7L648.1 455.1L661.3 455.1Z" fill="#0000f0"/>
<path d="M318.7 191.3L319.9 194.0M324.7 207.1L327.4 216.0M330.3 229.6L335.4 271.7M336.7 285.7L342.5 368.8M344.2 382.7L348.6 407.3" fill="none" stroke="#0000f0" stroke-width="2.6" stroke-linecap="round"/>
<path d="M112.6 44.6L114.0 48.4L118.1 48.6L114.9 51.1L116.0 55.0L112.6 52.8L109.2 55.0L110.3 51.1L107.1 48.6L111.2 48.4ZM119.4 46.6L120.8 50.4L124.9 50.6L121.7 53.1L122.8 57.1L119.4 54.8L116.0 57.1L117.0 53.1L113.9 50.6L117.9 50.4ZM126.2 48.8L127.6 52.6L131.7 52.8L128.5 55.3L129.6 59.3L126.2 57.0L122.7 59.3L123.8 55.3L120.6 52.8L124.7 52.6ZM132.9 51.1L134.4 54.9L138.4 55.1L135.3 57.6L136.3 61.6L132.9 59.3L129.5 61.6L130.6 57.6L127.4 55.1L131.5 54.9ZM139.7 53.5L141.1 57.3L145.2 57.5L142.0 60.1L143.1 64.0L139.7 61.8L136.3 64.0L137.4 60.1L134.2 57.5L138.3 57.3ZM146.5 56.0L147.9 59.9L152.0 60.0L148.8 62.6L149.9 66.5L146.5 64.3L143.1 66.5L144.2 62.6L141.0 60.0L145.0 59.9ZM153.3 58.7L154.7 62.5L158.8 62.7L155.6 65.3L156.7 69.2L153.3 67.0L149.8 69.2L150.9 65.3L147.7 62.7L151.8 62.5ZM160.0 61.6L161.5 65.4L165.5 65.6L162.4 68.1L163.4 72.1L160.0 69.8L156.6 72.1L157.7 68.1L154.5 65.6L158.6 65.4ZM166.8 64.6L168.3 68.4L172.3 68.6L169.1 71.1L170.2 75.1L166.8 72.8L163.4 75.1L164.5 71.1L161.3 68.6L165.4 68.4ZM173.6 67.7L175.0 71.5L179.1 71.7L175.9 74.2L177.0 78.2L173.6 75.9L170.2 78.2L171.3 74.2L168.1 71.7L172.1 71.5ZM180.4 70.9L181.8 74.7L185.9 74.9L182.7 77.4L183.8 81.4L180.4 79.1L177.0 81.4L178.0 77.4L174.8 74.9L178.9 74.7ZM187.1 74.1L188.6 78.0L192.7 78.1L189.5 80.7L190.5 84.6L187.1 82.4L183.7 84.6L184.8 80.7L181.6 78.1L185.7 78.0ZM193.9 77.5L195.4 81.3L199.4 81.5L196.2 84.0L197.3 88.0L193.9 85.7L190.5 88.0L191.6 84.0L188.4 81.5L192.5 81.3ZM200.7 81.0L202.1 84.8L206.2 85.0L203.0 87.5L204.1 91.5L200.7 89.2L197.3 91.5L198.4 87.5L195.2 85.0L199.3 84.8ZM207.5 84.6L208.9 88.4L213.0 88.6L209.8 91.2L210.9 95.1L207.5 92.9L204.1 95.1L205.1 91.2L202.0 88.6L206.0 88.4ZM214.2 88.5L215.7 92.3L219.8 92.5L216.6 95.0L217.7 99.0L214.2 96.7L210.8 99.0L211.9 95.0L208.7 92.5L212.8 92.3ZM221.0 92.6L222.5 96.4L226.5 96.6L223.4 99.1L224.4 103.1L221.0 100.8L217.6 103.1L218.7 99.1L215.5 96.6L219.6 96.4ZM227.8 96.9L229.2 100.7L233.3 100.9L230.1 103.5L231.2 107.4L227.8 105.2L224.4 107.4L225.5 103.5L222.3 100.9L226.4 100.7ZM234.6 101.5L236.0 105.3L240.1 105.5L236.9 108.0L238.0 111.9L234.6 109.7L231.2 111.9L232.2 108.0L229.1 105.5L233.1 105.3ZM241.3 106.2L242.8 110.0L246.9 110.2L243.7 112.7L244.8 116.7L241.3 114.4L237.9 116.7L239.0 112.7L235.8 110.2L239.9 110.0ZM248.1 111.0L249.6 114.8L253.6 115.0L250.5 117.6L251.5 121.5L248.1 119.3L244.7 121.5L245.8 117.6L242.6 115.0L246.7 114.8ZM254.9 116.0L256.3 119.8L260.4 120.0L257.2 122.5L258.3 126.5L254.9 124.2L251.5 126.5L252.6 122.5L249.4 120.0L253.5 119.8ZM261.7 121.1L263.1 124.9L267.2 125.1L264.0 127.6L265.1 131.6L261.7 129.3L258.3 131.6L259.3 127.6L256.2 125.1L260.2 124.9ZM268.5 126.4L269.9 130.2L274.0 130.4L270.8 132.9L271.9 136.9L268.5 134.6L265.0 136.9L266.1 132.9L262.9 130.4L267.0 130.2ZM275.2 131.9L276.7 135.7L280.7 135.9L277.6 138.5L278.6 142.4L275.2 140.2L271.8 142.4L272.9 138.5L269.7 135.9L273.8 135.7ZM282.0 137.8L283.4 141.6L287.5 141.8L284.3 144.3L285.4 148.3L282.0 146.0L278.6 148.3L279.7 144.3L276.5 141.8L280.6 141.6ZM288.8 144.1L290.2 147.9L294.3 148.1L291.1 150.6L292.2 154.6L288.8 152.3L285.4 154.6L286.5 150.6L283.3 148.1L287.3 147.9ZM295.6 151.0L297.0 154.8L301.1 155.0L297.9 157.6L299.0 161.5L295.6 159.3L292.1 161.5L293.2 157.6L290.0 155.0L294.1 154.8ZM302.3 158.9L303.8 162.7L307.9 162.9L304.7 165.4L305.7 169.4L302.3 167.1L298.9 169.4L300.0 165.4L296.8 162.9L300.9 162.7ZM309.1 168.6L310.6 172.4L314.6 172.6L311.4 175.2L312.5 179.1L309.1 176.9L305.7 179.1L306.8 175.2L303.6 172.6L307.7 172.4ZM315.9 179.1L317.3 182.9L321.4 183.1L318.2 185.6L319.3 189.6L315.9 187.3L312.5 189.6L313.6 185.6L310.4 183.1L314.4 182.9ZM322.7 194.6L324.1 198.5L328.2 198.6L325.0 201.2L326.1 205.1L322.7 202.9L319.3 205.1L320.3 201.2L317.1 198.6L321.2 198.5ZM329.4 216.9L330.9 220.7L335.0 220.9L331.8 223.4L332.8 227.4L329.4 225.1L326.0 227.4L327.1 223.4L323.9 220.9L328.0 220.7ZM336.2 272.9L337.7 276.7L341.7 276.9L338.5 279.4L339.6 283.4L336.2 281.1L332.8 283.4L333.9 279.4L330.7 276.9L334.8 276.7ZM343.0 370.0L344.4 373.8L348.5 374.0L345.3 376.6L346.4 380.5L343.0 378.3L339.6 380.5L340.7 376.6L337.5 374.0L341.6 373.8ZM349.8 408.4L351.2 412.2L355.3 412.4L352.1 415.0L353.2 418.9L349.8 416.7L346.4 418.9L347.4 415.0L344.3 412.4L348.3 412.2ZM356.5 419.8L358.0 423.6L362.1 423.8L358.9 426.3L360.0 430.3L356.5 428.0L353.1 430.3L354.2 426.3L351.0 423.8L355.1 423.6ZM363.3 426.0L364.8 429.8L368.8 430.0L365.7 432.6L366.7 436.5L363.3 434.3L359.9 436.5L361.0 432.6L357.8 430.0L361.9 429.8ZM370.1 429.5L371.5 433.3L375.6 433.5L372.4 436.1L373.5 440.0L370.1 437.8L366.7 440.0L367.8 436.1L364.6 433.5L368.7 433.3ZM376.9 432.1L378.3 435.9L382.4 436.1L379.2 438.7L380.3 442.6L376.9 440.4L373.5 442.6L374.5 438.7L371.4 436.1L375.4 435.9ZM383.6 433.9L385.1 437.7L389.2 437.9L386.0 440.4L387.1 444.4L383.6 442.1L380.2 444.4L381.3 440.4L378.1 437.9L382.2 437.7ZM390.4 434.9L391.9 438.7L395.9 438.9L392.8 441.4L393.8 445.3L390.4 443.1L387.0 445.3L388.1 441.4L384.9 438.9L389.0 438.7ZM397.2 435.6L398.6 439.4L402.7 439.6L399.5 442.2L400.6 446.1L397.2 443.9L393.8 446.1L394.9 442.2L391.7 439.6L395.8 439.4ZM404.0 436.2L405.4 440.0L409.5 440.2L406.3 442.8L407.4 446.7L404.0 444.5L400.6 446.7L401.6 442.8L398.5 440.2L402.5 440.0ZM410.8 436.7L412.2 440.6L416.3 440.7L413.1 443.3L414.2 447.2L410.8 445.0L407.3 447.2L408.4 443.3L405.2 440.7L409.3 440.6ZM417.5 437.2L419.0 441.0L423.0 441.2L419.9 443.8L420.9 447.7L417.5 445.5L414.1 447.7L415.2 443.8L412.0 441.2L416.1 441.0ZM424.3 437.7L425.7 441.5L429.8 441.7L426.6 444.2L427.7 448.2L424.3 445.9L420.9 448.2L422.0 444.2L418.8 441.7L422.9 441.5ZM431.1 438.1L432.5 441.9L436.6 442.1L433.4 444.7L434.5 448.6L431.1 446.4L427.7 448.6L428.8 444.7L425.6 442.1L429.6 441.9ZM437.9 438.5L439.3 442.3L443.4 442.5L440.2 445.1L441.3 449.0L437.9 446.8L434.5 449.0L435.5 445.1L432.3 442.5L436.4 442.3ZM444.6 438.9L446.1 442.7L450.2 442.9L447.0 445.4L448.0 449.3L444.6 447.1L441.2 449.3L442.3 445.4L439.1 442.9L443.2 442.7ZM451.4 439.1L452.9 442.9L456.9 443.1L453.7 445.7L454.8 449.6L451.4 447.4L448.0 449.6L449.1 445.7L445.9 443.1L450.0 442.9ZM458.2 439.3L459.6 443.1L463.7 443.3L460.5 445.9L461.6 449.8L458.2 447.6L454.8 449.8L455.9 445.9L452.7 443.3L456.7 443.1ZM465.0 439.5L466.4 443.4L470.5 443.6L467.3 446.1L468.4 450.0L465.0 447.8L461.6 450.0L462.6 446.1L459.4 443.6L463.5 443.4ZM471.7 439.8L473.2 443.6L477.3 443.8L474.1 446.3L475.2 450.2L471.7 448.0L468.3 450.2L469.4 446.3L466.2 443.8L470.3 443.6ZM478.5 440.0L480.0 443.8L484.0 444.0L480.8 446.5L481.9 450.5L478.5 448.2L475.1 450.5L476.2 446.5L473.0 444.0L477.1 443.8ZM485.3 440.2L486.7 444.0L490.8 444.2L487.6 446.7L488.7 450.7L485.3 448.4L481.9 450.7L483.0 446.7L479.8 444.2L483.9 444.0ZM492.1 440.4L493.5 444.2L497.6 444.4L494.4 446.9L495.5 450.9L492.1 448.6L488.7 450.9L489.7 446.9L486.6 444.4L490.6 444.2ZM498.8 440.6L500.3 444.4L504.4 444.6L501.2 447.1L502.3 451.1L498.8 448.8L495.4 451.1L496.5 447.1L493.3 444.6L497.4 444.4ZM505.6 440.7L507.1 444.6L511.1 444.8L508.0 447.3L509.0 451.2L505.6 449.0L502.2 451.2L503.3 447.3L500.1 444.8L504.2 444.6ZM512.4 440.9L513.8 444.7L517.9 444.9L514.7 447.5L515.8 451.4L512.4 449.2L509.0 451.4L510.1 447.5L506.9 444.9L511.0 444.7ZM519.2 441.1L520.6 444.9L524.7 445.1L521.5 447.7L522.6 451.6L519.2 449.4L515.8 451.6L516.8 447.7L513.7 445.1L517.7 444.9ZM526.0 441.3L527.4 445.1L531.5 445.3L528.3 447.8L529.4 451.8L526.0 449.5L522.5 451.8L523.6 447.8L520.4 445.3L524.5 445.1ZM532.7 441.4L534.2 445.3L538.2 445.5L535.1 448.0L536.1 451.9L532.7 449.7L529.3 451.9L530.4 448.0L527.2 445.5L531.3 445.3ZM539.5 441.6L540.9 445.4L545.0 445.6L541.8 448.2L542.9 452.1L539.5 449.9L536.1 452.1L537.2 448.2L534.0 445.6L538.1 445.4ZM546.3 441.8L547.7 445.6L551.8 445.8L548.6 448.3L549.7 452.2L546.3 450.0L542.9 452.2L543.9 448.3L540.8 445.8L544.8 445.6ZM553.1 441.9L554.5 445.7L558.6 445.9L555.4 448.5L556.5 452.4L553.1 450.1L549.6 452.4L550.7 448.5L547.5 445.9L551.6 445.7ZM559.8 442.0L561.3 445.9L565.3 446.0L562.2 448.6L563.2 452.5L559.8 450.3L556.4 452.5L557.5 448.6L554.3 446.0L558.4 445.9ZM566.6 442.2L568.0 446.0L572.1 446.2L568.9 448.7L570.0 452.7L566.6 450.4L563.2 452.7L564.3 448.7L561.1 446.2L565.2 446.0ZM573.4 442.3L574.8 446.1L578.9 446.3L575.7 448.8L576.8 452.8L573.4 450.5L570.0 452.8L571.1 448.8L567.9 446.3L571.9 446.1ZM580.2 442.4L581.6 446.2L585.7 446.4L582.5 449.0L583.6 452.9L580.2 450.7L576.8 452.9L577.8 449.0L574.6 446.4L578.7 446.2ZM586.9 442.5L588.4 446.3L592.5 446.5L589.3 449.1L590.3 453.0L586.9 450.8L583.5 453.0L584.6 449.1L581.4 446.5L585.5 446.3ZM593.7 442.6L595.2 446.4L599.2 446.6L596.0 449.2L597.1 453.1L593.7 450.9L590.3 453.1L591.4 449.2L588.2 446.6L592.3 446.4ZM600.5 442.7L601.9 446.5L606.0 446.7L602.8 449.3L603.9 453.2L600.5 450.9L597.1 453.2L598.2 449.3L595.0 446.7L599.0 446.5ZM607.3 442.8L608.7 446.6L612.8 446.8L609.6 449.3L610.7 453.3L607.3 451.0L603.9 453.3L604.9 449.3L601.8 446.8L605.8 446.6ZM614.0 442.8L615.5 446.7L619.6 446.8L616.4 449.4L617.5 453.3L614.0 451.1L610.6 453.3L611.7 449.4L608.5 446.8L612.6 446.7ZM620.8 442.9L622.3 446.7L626.3 446.9L623.1 449.5L624.2 453.4L620.8 451.2L617.4 453.4L618.5 449.5L615.3 446.9L619.4 446.7ZM627.6 442.9L629.0 446.8L633.1 447.0L629.9 449.5L631.0 453.4L627.6 451.2L624.2 453.4L625.3 449.5L622.1 447.0L626.2 446.8ZM634.4 443.0L635.8 446.8L639.9 447.0L636.7 449.5L637.8 453.5L634.4 451.2L631.0 453.5L632.0 449.5L628.9 447.0L632.9 446.8ZM641.1 443.0L642.6 446.8L646.7 447.0L643.5 449.6L644.6 453.5L641.1 451.3L637.7 453.5L638.8 449.6L635.6 447.0L639.7 446.8ZM647.9 443.0L649.4 446.9L653.4 447.0L650.3 449.6L651.3 453.5L647.9 451.3L644.5 453.5L645.6 449.6L642.4 447.0L646.5 446.9ZM654.7 443.0L656.1 446.9L660.2 447.0L657.0 449.6L658.1 453.5L654.7 451.3L651.3 453.5L652.4 449.6L649.2 447.0L653.3 446.9Z" fill="#0000f0"/>
</g>
<clipPath id="clipc"><rect x="112.8" y="558.8" width="542.1" height="435.4"/></clipPath>
<g clip-path="url(#clipc)">
<path d="M112.8 994.2L112.8 936.3L119.6 936.5L126.4 936.7L133.1 932.8L139.9 931.7L146.7 934.9L153.5 933.4L160.2 929.3L167.0 928.3L173.8 930.2L180.6 929.3L187.3 927.3L194.1 925.3L200.9 926.2L207.7 920.7L214.4 920.7L221.2 917.7L228.0 918.9L234.8 913.2L241.5 912.4L248.3 912.4L255.1 907.0L261.9 905.8L268.7 902.5L275.4 904.1L282.2 901.4L289.0 895.1L295.8 894.7L302.5 891.0L309.3 890.8L316.1 884.0L322.9 882.9L329.6 876.8L336.4 876.2L343.2 868.8L350.0 865.0L356.7 854.1L363.5 849.6L370.3 844.5L377.1 837.7L383.9 826.8L390.6 814.1L397.4 800.3L404.2 777.0L411.0 759.9L417.7 744.0L424.5 696.2L431.3 630.2L438.1 626.2L444.8 663.5L451.6 704.7L458.4 734.9L465.2 750.1L471.9 757.2L478.7 764.3L485.5 771.5L492.3 782.3L499.0 790.5L505.8 796.7L512.6 806.7L519.4 812.9L526.2 822.0L532.9 833.6L539.7 843.7L546.5 855.7L553.3 867.1L560.0 873.9L566.8 882.7L573.6 889.6L580.4 899.9L587.1 907.1L593.9 911.7L600.7 922.1L607.5 928.7L614.2 932.8L621.0 942.5L627.8 949.0L634.6 951.5L641.3 957.2L648.1 961.7L654.9 968.9L654.9 994.2Z" fill="rgba(0,205,205,0.2)"/>
<path d="M112.8 936.3L119.6 936.5L126.4 936.7L133.1 932.8L139.9 931.7L146.7 934.9L153.5 933.4L160.2 929.3L167.0 928.3L173.8 930.2L180.6 929.3L187.3 927.3L194.1 925.3L200.9 926.2L207.7 920.7L214.4 920.7L221.2 917.7L228.0 918.9L234.8 913.2L241.5 912.4L248.3 912.4L255.1 907.0L261.9 905.8L268.7 902.5L275.4 904.1L282.2 901.4L289.0 895.1L295.8 894.7L302.5 891.0L309.3 890.8L316.1 884.0L322.9 882.9L329.6 876.8L336.4 876.2L343.2 868.8L350.0 865.0L356.7 854.1L363.5 849.6L370.3 844.5L377.1 837.7L383.9 826.8L390.6 814.1L397.4 800.3L404.2 777.0L411.0 759.9L417.7 744.0L424.5 696.2L431.3 630.2L438.1 626.2L444.8 663.5L451.6 704.7L458.4 734.9L465.2 750.1L471.9 757.2L478.7 764.3L485.5 771.5L492.3 782.3L499.0 790.5L505.8 796.7L512.6 806.7L519.4 812.9L526.2 822.0L532.9 833.6L539.7 843.7L546.5 855.7L553.3 867.1L560.0 873.9L566.8 882.7L573.6 889.6L580.4 899.9L587.1 907.1L593.9 911.7L600.7 922.1L607.5 928.7L614.2 932.8L621.0 942.5L627.8 949.0L634.6 951.5L641.3 957.2L648.1 961.7L654.9 968.9" fill="none" stroke="#f40000" stroke-width="2.6" stroke-linejoin="round"/>
<path d="M112.8 930.5L114.2 934.3L118.3 934.5L115.1 937.1L116.2 941.0L112.8 938.8L109.4 941.0L110.5 937.1L107.3 934.5L111.4 934.3ZM119.6 930.7L121.0 934.6L125.1 934.8L121.9 937.3L123.0 941.2L119.6 939.0L116.2 941.2L117.2 937.3L114.1 934.8L118.1 934.6ZM126.4 930.9L127.8 934.7L131.9 934.9L128.7 937.4L129.8 941.3L126.4 939.1L122.9 941.3L124.0 937.4L120.8 934.9L124.9 934.7ZM133.1 927.0L134.6 930.9L138.6 931.0L135.5 933.6L136.5 937.5L133.1 935.3L129.7 937.5L130.8 933.6L127.6 931.0L131.7 930.9ZM139.9 925.9L141.3 929.7L145.4 929.9L142.2 932.5L143.3 936.4L139.9 934.2L136.5 936.4L137.6 932.5L134.4 929.9L138.5 929.7ZM146.7 929.1L148.1 932.9L152.2 933.1L149.0 935.7L150.1 939.6L146.7 937.4L143.3 939.6L144.4 935.7L141.2 933.1L145.2 932.9ZM153.5 927.6L154.9 931.4L159.0 931.6L155.8 934.1L156.9 938.1L153.5 935.8L150.0 938.1L151.1 934.1L147.9 931.6L152.0 931.4ZM160.2 923.5L161.7 927.3L165.7 927.5L162.6 930.0L163.6 933.9L160.2 931.7L156.8 933.9L157.9 930.0L154.7 927.5L158.8 927.3ZM167.0 922.5L168.5 926.3L172.5 926.5L169.3 929.0L170.4 933.0L167.0 930.7L163.6 933.0L164.7 929.0L161.5 926.5L165.6 926.3ZM173.8 924.4L175.2 928.2L179.3 928.4L176.1 930.9L177.2 934.9L173.8 932.6L170.4 934.9L171.5 930.9L168.3 928.4L172.3 928.2ZM180.6 923.5L182.0 927.3L186.1 927.5L182.9 930.1L184.0 934.0L180.6 931.7L177.2 934.0L178.2 930.1L175.0 927.5L179.1 927.3ZM187.3 921.5L188.8 925.3L192.9 925.5L189.7 928.0L190.7 932.0L187.3 929.7L183.9 932.0L185.0 928.0L181.8 925.5L185.9 925.3ZM194.1 919.5L195.6 923.3L199.6 923.5L196.4 926.1L197.5 930.0L194.1 927.8L190.7 930.0L191.8 926.1L188.6 923.5L192.7 923.3ZM200.9 920.4L202.3 924.2L206.4 924.4L203.2 926.9L204.3 930.9L200.9 928.6L197.5 930.9L198.6 926.9L195.4 924.4L199.5 924.2ZM207.7 914.9L209.1 918.7L213.2 918.9L210.0 921.5L211.1 925.4L207.7 923.1L204.3 925.4L205.3 921.5L202.2 918.9L206.2 918.7ZM214.4 914.9L215.9 918.7L220.0 918.9L216.8 921.4L217.9 925.4L214.4 923.1L211.0 925.4L212.1 921.4L208.9 918.9L213.0 918.7ZM221.2 911.9L222.7 915.8L226.7 916.0L223.6 918.5L224.6 922.4L221.2 920.2L217.8 922.4L218.9 918.5L215.7 916.0L219.8 915.8ZM228.0 913.1L229.4 916.9L233.5 917.1L230.3 919.6L231.4 923.6L228.0 921.3L224.6 923.6L225.7 919.6L222.5 917.1L226.6 916.9ZM234.8 907.4L236.2 911.2L240.3 911.4L237.1 913.9L238.2 917.9L234.8 915.6L231.4 917.9L232.4 913.9L229.3 911.4L233.3 911.2ZM241.5 906.6L243.0 910.4L247.1 910.6L243.9 913.1L245.0 917.0L241.5 914.8L238.1 917.0L239.2 913.1L236.0 910.6L240.1 910.4ZM248.3 906.6L249.8 910.5L253.8 910.6L250.7 913.2L251.7 917.1L248.3 914.9L244.9 917.1L246.0 913.2L242.8 910.6L246.9 910.5ZM255.1 901.2L256.5 905.0L260.6 905.2L257.4 907.7L258.5 911.7L255.1 909.4L251.7 911.7L252.8 907.7L249.6 905.2L253.7 905.0ZM261.9 900.0L263.3 903.9L267.4 904.0L264.2 906.6L265.3 910.5L261.9 908.3L258.5 910.5L259.5 906.6L256.4 904.0L260.4 903.9ZM268.7 896.7L270.1 900.5L274.2 900.7L271.0 903.3L272.1 907.2L268.7 905.0L265.2 907.2L266.3 903.3L263.1 900.7L267.2 900.5ZM275.4 898.3L276.9 902.1L280.9 902.3L277.8 904.8L278.8 908.8L275.4 906.5L272.0 908.8L273.1 904.8L269.9 902.3L274.0 902.1ZM282.2 895.6L283.6 899.4L287.7 899.6L284.5 902.2L285.6 906.1L282.2 903.9L278.8 906.1L279.9 902.2L276.7 899.6L280.8 899.4ZM289.0 889.3L290.4 893.1L294.5 893.3L291.3 895.9L292.4 899.8L289.0 897.6L285.6 899.8L286.7 895.9L283.5 893.3L287.5 893.1ZM295.8 888.9L297.2 892.8L301.3 892.9L298.1 895.5L299.2 899.4L295.8 897.2L292.3 899.4L293.4 895.5L290.2 892.9L294.3 892.8ZM302.5 885.2L304.0 889.1L308.1 889.3L304.9 891.8L305.9 895.7L302.5 893.5L299.1 895.7L300.2 891.8L297.0 889.3L301.1 889.1ZM309.3 885.0L310.8 888.8L314.8 889.0L311.6 891.5L312.7 895.4L309.3 893.2L305.9 895.4L307.0 891.5L303.8 889.0L307.9 888.8ZM316.1 878.2L317.5 882.0L321.6 882.2L318.4 884.7L319.5 888.7L316.1 886.4L312.7 888.7L313.8 884.7L310.6 882.2L314.6 882.0ZM322.9 877.1L324.3 880.9L328.4 881.1L325.2 883.7L326.3 887.6L322.9 885.3L319.5 887.6L320.5 883.7L317.3 881.1L321.4 880.9ZM329.6 871.0L331.1 874.9L335.2 875.0L332.0 877.6L333.0 881.5L329.6 879.3L326.2 881.5L327.3 877.6L324.1 875.0L328.2 874.9ZM336.4 870.4L337.9 874.2L341.9 874.4L338.7 876.9L339.8 880.8L336.4 878.6L333.0 880.8L334.1 876.9L330.9 874.4L335.0 874.2ZM343.2 863.0L344.6 866.8L348.7 867.0L345.5 869.5L346.6 873.5L343.2 871.2L339.8 873.5L340.9 869.5L337.7 867.0L341.8 866.8ZM350.0 859.2L351.4 863.0L355.5 863.2L352.3 865.7L353.4 869.7L350.0 867.4L346.6 869.7L347.6 865.7L344.5 863.2L348.5 863.0ZM356.7 848.3L358.2 852.1L362.3 852.3L359.1 854.8L360.2 858.8L356.7 856.5L353.3 858.8L354.4 854.8L351.2 852.3L355.3 852.1ZM363.5 843.8L365.0 847.6L369.0 847.8L365.9 850.4L366.9 854.3L363.5 852.1L360.1 854.3L361.2 850.4L358.0 847.8L362.1 847.6ZM370.3 838.7L371.7 842.5L375.8 842.7L372.6 845.3L373.7 849.2L370.3 847.0L366.9 849.2L368.0 845.3L364.8 842.7L368.9 842.5ZM377.1 831.9L378.5 835.7L382.6 835.9L379.4 838.5L380.5 842.4L377.1 840.1L373.7 842.4L374.7 838.5L371.6 835.9L375.6 835.7ZM383.9 821.0L385.3 824.9L389.4 825.0L386.2 827.6L387.3 831.5L383.9 829.3L380.4 831.5L381.5 827.6L378.3 825.0L382.4 824.9ZM390.6 808.3L392.1 812.1L396.1 812.3L393.0 814.8L394.0 818.8L390.6 816.5L387.2 818.8L388.3 814.8L385.1 812.3L389.2 812.1ZM397.4 794.5L398.8 798.3L402.9 798.5L399.7 801.1L400.8 805.0L397.4 802.8L394.0 805.0L395.1 801.1L391.9 798.5L396.0 798.3ZM404.2 771.2L405.6 775.1L409.7 775.2L406.5 777.8L407.6 781.7L404.2 779.5L400.8 781.7L401.8 777.8L398.7 775.2L402.7 775.1ZM411.0 754.1L412.4 757.9L416.5 758.1L413.3 760.7L414.4 764.6L411.0 762.4L407.5 764.6L408.6 760.7L405.4 758.1L409.5 757.9ZM417.7 738.2L419.2 742.0L423.2 742.2L420.1 744.8L421.1 748.7L417.7 746.5L414.3 748.7L415.4 744.8L412.2 742.2L416.3 742.0ZM424.5 690.4L425.9 694.3L430.0 694.5L426.8 697.0L427.9 700.9L424.5 698.7L421.1 700.9L422.2 697.0L419.0 694.5L423.1 694.3ZM431.3 624.4L432.7 628.2L436.8 628.4L433.6 630.9L434.7 634.9L431.3 632.6L427.9 634.9L429.0 630.9L425.8 628.4L429.8 628.2ZM438.1 620.4L439.5 624.2L443.6 624.4L440.4 627.0L441.5 630.9L438.1 628.7L434.7 630.9L435.7 627.0L432.5 624.4L436.6 624.2ZM444.8 657.7L446.3 661.6L450.4 661.8L447.2 664.3L448.2 668.2L444.8 666.0L441.4 668.2L442.5 664.3L439.3 661.8L443.4 661.6ZM451.6 698.9L453.1 702.7L457.1 702.9L453.9 705.4L455.0 709.4L451.6 707.1L448.2 709.4L449.3 705.4L446.1 702.9L450.2 702.7ZM458.4 729.1L459.8 733.0L463.9 733.2L460.7 735.7L461.8 739.6L458.4 737.4L455.0 739.6L456.1 735.7L452.9 733.2L456.9 733.0ZM465.2 744.3L466.6 748.2L470.7 748.4L467.5 750.9L468.6 754.8L465.2 752.6L461.8 754.8L462.8 750.9L459.6 748.4L463.7 748.2ZM471.9 751.4L473.4 755.2L477.5 755.4L474.3 757.9L475.4 761.9L471.9 759.6L468.5 761.9L469.6 757.9L466.4 755.4L470.5 755.2ZM478.7 758.5L480.2 762.3L484.2 762.5L481.0 765.1L482.1 769.0L478.7 766.8L475.3 769.0L476.4 765.1L473.2 762.5L477.3 762.3ZM485.5 765.7L486.9 769.5L491.0 769.7L487.8 772.3L488.9 776.2L485.5 774.0L482.1 776.2L483.2 772.3L480.0 769.7L484.1 769.5ZM492.3 776.5L493.7 780.3L497.8 780.5L494.6 783.1L495.7 787.0L492.3 784.8L488.9 787.0L489.9 783.1L486.8 780.5L490.8 780.3ZM499.0 784.7L500.5 788.6L504.6 788.8L501.4 791.3L502.5 795.2L499.0 793.0L495.6 795.2L496.7 791.3L493.5 788.8L497.6 788.6ZM505.8 790.9L507.3 794.7L511.3 794.9L508.2 797.4L509.2 801.4L505.8 799.1L502.4 801.4L503.5 797.4L500.3 794.9L504.4 794.7ZM512.6 800.9L514.0 804.7L518.1 804.9L514.9 807.5L516.0 811.4L512.6 809.2L509.2 811.4L510.3 807.5L507.1 804.9L511.2 804.7ZM519.4 807.1L520.8 810.9L524.9 811.1L521.7 813.6L522.8 817.6L519.4 815.3L516.0 817.6L517.0 813.6L513.9 811.1L517.9 810.9ZM526.2 816.2L527.6 820.0L531.7 820.2L528.5 822.8L529.6 826.7L526.2 824.5L522.7 826.7L523.8 822.8L520.6 820.2L524.7 820.0ZM532.9 827.8L534.4 831.6L538.4 831.8L535.3 834.4L536.3 838.3L532.9 836.1L529.5 838.3L530.6 834.4L527.4 831.8L531.5 831.6ZM539.7 837.9L541.1 841.7L545.2 841.9L542.0 844.4L543.1 848.4L539.7 846.1L536.3 848.4L537.4 844.4L534.2 841.9L538.3 841.7ZM546.5 849.9L547.9 853.7L552.0 853.9L548.8 856.4L549.9 860.4L546.5 858.1L543.1 860.4L544.1 856.4L541.0 853.9L545.0 853.7ZM553.3 861.3L554.7 865.1L558.8 865.3L555.6 867.9L556.7 871.8L553.3 869.6L549.8 871.8L550.9 867.9L547.7 865.3L551.8 865.1ZM560.0 868.1L561.5 871.9L565.5 872.1L562.4 874.6L563.4 878.6L560.0 876.3L556.6 878.6L557.7 874.6L554.5 872.1L558.6 871.9ZM566.8 876.9L568.2 880.7L572.3 880.9L569.1 883.4L570.2 887.4L566.8 885.1L563.4 887.4L564.5 883.4L561.3 880.9L565.4 880.7ZM573.6 883.8L575.0 887.6L579.1 887.8L575.9 890.4L577.0 894.3L573.6 892.0L570.2 894.3L571.3 890.4L568.1 887.8L572.1 887.6ZM580.4 894.1L581.8 897.9L585.9 898.1L582.7 900.7L583.8 904.6L580.4 902.4L577.0 904.6L578.0 900.7L574.8 898.1L578.9 897.9ZM587.1 901.3L588.6 905.1L592.7 905.3L589.5 907.9L590.5 911.8L587.1 909.6L583.7 911.8L584.8 907.9L581.6 905.3L585.7 905.1ZM593.9 905.9L595.4 909.7L599.4 909.9L596.2 912.4L597.3 916.3L593.9 914.1L590.5 916.3L591.6 912.4L588.4 909.9L592.5 909.7ZM600.7 916.3L602.1 920.2L606.2 920.3L603.0 922.9L604.1 926.8L600.7 924.6L597.3 926.8L598.4 922.9L595.2 920.3L599.2 920.2ZM607.5 922.9L608.9 926.7L613.0 926.9L609.8 929.4L610.9 933.4L607.5 931.1L604.1 933.4L605.1 929.4L602.0 926.9L606.0 926.7ZM614.2 927.0L615.7 930.8L619.8 931.0L616.6 933.5L617.7 937.5L614.2 935.2L610.8 937.5L611.9 933.5L608.7 931.0L612.8 930.8ZM621.0 936.7L622.5 940.5L626.5 940.7L623.3 943.3L624.4 947.2L621.0 945.0L617.6 947.2L618.7 943.3L615.5 940.7L619.6 940.5ZM627.8 943.2L629.2 947.0L633.3 947.2L630.1 949.7L631.2 953.7L627.8 951.4L624.4 953.7L625.5 949.7L622.3 947.2L626.4 947.0ZM634.6 945.7L636.0 949.5L640.1 949.7L636.9 952.2L638.0 956.1L634.6 953.9L631.2 956.1L632.2 952.2L629.1 949.7L633.1 949.5ZM641.3 951.4L642.8 955.3L646.9 955.4L643.7 958.0L644.8 961.9L641.3 959.7L637.9 961.9L639.0 958.0L635.8 955.4L639.9 955.3ZM648.1 955.9L649.6 959.7L653.6 959.9L650.5 962.4L651.5 966.3L648.1 964.1L644.7 966.3L645.8 962.4L642.6 959.9L646.7 959.7ZM654.9 963.1L656.3 966.9L660.4 967.1L657.2 969.6L658.3 973.6L654.9 971.3L651.5 973.6L652.6 969.6L649.4 967.1L653.5 966.9Z" fill="#f40000"/>
<path d="M112.8 994.2L112.8 938.5L119.6 939.1L126.4 935.3L133.1 935.6L139.9 935.3L146.7 933.9L153.5 935.0L160.2 931.7L167.0 931.3L173.8 931.0L180.6 931.1L187.3 928.6L194.1 927.7L200.9 926.6L207.7 924.1L214.4 923.6L221.2 923.1L228.0 920.7L234.8 920.4L241.5 918.6L248.3 914.7L255.1 912.5L261.9 909.8L268.7 908.3L275.4 907.4L282.2 907.0L289.0 903.3L295.8 899.3L302.5 897.6L309.3 896.4L316.1 894.0L322.9 892.2L329.6 889.7L336.4 887.2L343.2 880.7L350.0 878.0L356.7 875.8L363.5 869.0L370.3 860.3L377.1 856.6L383.9 850.6L390.6 845.3L397.4 839.3L404.2 832.6L411.0 823.1L417.7 814.5L424.5 804.2L431.3 792.4L438.1 781.2L444.8 764.2L451.6 737.3L458.4 704.7L465.2 665.6L471.9 606.1L478.7 582.9L485.5 638.0L492.3 672.9L499.0 720.5L505.8 727.7L512.6 757.5L519.4 775.0L526.2 780.2L532.9 788.1L539.7 793.1L546.5 799.9L553.3 808.0L560.0 817.2L566.8 823.5L573.6 833.8L580.4 841.0L587.1 848.5L593.9 854.5L600.7 865.1L607.5 870.0L614.2 878.0L621.0 885.0L627.8 895.2L634.6 903.5L641.3 911.1L648.1 916.5L654.9 923.6L654.9 994.2Z" fill="rgba(74,245,245,0.80)"/>
<path d="M112.8 938.5L119.6 939.1L126.4 935.3L133.1 935.6L139.9 935.3L146.7 933.9L153.5 935.0L160.2 931.7L167.0 931.3L173.8 931.0L180.6 931.1L187.3 928.6L194.1 927.7L200.9 926.6L207.7 924.1L214.4 923.6L221.2 923.1L228.0 920.7L234.8 920.4L241.5 918.6L248.3 914.7L255.1 912.5L261.9 909.8L268.7 908.3L275.4 907.4L282.2 907.0L289.0 903.3L295.8 899.3L302.5 897.6L309.3 896.4L316.1 894.0L322.9 892.2L329.6 889.7L336.4 887.2L343.2 880.7L350.0 878.0L356.7 875.8L363.5 869.0L370.3 860.3L377.1 856.6L383.9 850.6L390.6 845.3L397.4 839.3L404.2 832.6L411.0 823.1L417.7 814.5L424.5 804.2L431.3 792.4L438.1 781.2L444.8 764.2L451.6 737.3L458.4 704.7L465.2 665.6L471.9 606.1L478.7 582.9L485.5 638.0L492.3 672.9L499.0 720.5L505.8 727.7L512.6 757.5L519.4 775.0L526.2 780.2L532.9 788.1L539.7 793.1L546.5 799.9L553.3 808.0L560.0 817.2L566.8 823.5L573.6 833.8L580.4 841.0L587.1 848.5L593.9 854.5L600.7 865.1L607.5 870.0L614.2 878.0L621.0 885.0L627.8 895.2L634.6 903.5L641.3 911.1L648.1 916.5L654.9 923.6" fill="none" stroke="#f40000" stroke-width="2.6" stroke-linejoin="round"/>
<path d="M112.8 931.9L106.2 943.3L119.4 943.3ZM119.6 932.5L113.0 943.9L126.2 943.9ZM126.4 928.7L119.8 940.1L133.0 940.1ZM133.1 929.0L126.5 940.4L139.7 940.4ZM139.9 928.7L133.3 940.1L146.5 940.1ZM146.7 927.3L140.1 938.7L153.3 938.7ZM153.5 928.3L146.9 939.7L160.1 939.7ZM160.2 925.0L153.6 936.4L166.8 936.4ZM167.0 924.7L160.4 936.1L173.6 936.1ZM173.8 924.4L167.2 935.8L180.4 935.8ZM180.6 924.5L174.0 935.9L187.2 935.9ZM187.3 922.0L180.7 933.4L193.9 933.4ZM194.1 921.1L187.5 932.5L200.7 932.5ZM200.9 920.0L194.3 931.4L207.5 931.4ZM207.7 917.5L201.1 928.9L214.3 928.9ZM214.4 917.0L207.8 928.4L221.0 928.4ZM221.2 916.5L214.6 927.9L227.8 927.9ZM228.0 914.1L221.4 925.5L234.6 925.5ZM234.8 913.8L228.2 925.2L241.4 925.2ZM241.5 912.0L234.9 923.4L248.1 923.4ZM248.3 908.1L241.7 919.5L254.9 919.5ZM255.1 905.9L248.5 917.3L261.7 917.3ZM261.9 903.2L255.3 914.6L268.5 914.6ZM268.7 901.6L262.1 913.0L275.3 913.0ZM275.4 900.8L268.8 912.2L282.0 912.2ZM282.2 900.4L275.6 911.8L288.8 911.8ZM289.0 896.7L282.4 908.1L295.6 908.1ZM295.8 892.7L289.2 904.1L302.4 904.1ZM302.5 891.0L295.9 902.4L309.1 902.4ZM309.3 889.8L302.7 901.2L315.9 901.2ZM316.1 887.3L309.5 898.7L322.7 898.7ZM322.9 885.6L316.3 897.0L329.5 897.0ZM329.6 883.1L323.0 894.5L336.2 894.5ZM336.4 880.5L329.8 891.9L343.0 891.9ZM343.2 874.1L336.6 885.5L349.8 885.5ZM350.0 871.4L343.4 882.8L356.6 882.8ZM356.7 869.2L350.1 880.6L363.3 880.6ZM363.5 862.4L356.9 873.8L370.1 873.8ZM370.3 853.7L363.7 865.1L376.9 865.1ZM377.1 850.0L370.5 861.4L383.7 861.4ZM383.9 844.0L377.2 855.4L390.5 855.4ZM390.6 838.7L384.0 850.1L397.2 850.1ZM397.4 832.7L390.8 844.1L404.0 844.1ZM404.2 825.9L397.6 837.3L410.8 837.3ZM411.0 816.5L404.4 827.9L417.6 827.9ZM417.7 807.9L411.1 819.3L424.3 819.3ZM424.5 797.6L417.9 809.0L431.1 809.0ZM431.3 785.8L424.7 797.2L437.9 797.2ZM438.1 774.6L431.5 786.0L444.7 786.0ZM444.8 757.6L438.2 769.0L451.4 769.0ZM451.6 730.7L445.0 742.1L458.2 742.1ZM458.4 698.0L451.8 709.4L465.0 709.4ZM465.2 658.9L458.6 670.3L471.8 670.3ZM471.9 599.5L465.3 610.9L478.5 610.9ZM478.7 576.3L472.1 587.7L485.3 587.7ZM485.5 631.4L478.9 642.8L492.1 642.8ZM492.3 666.2L485.7 677.6L498.9 677.6ZM499.0 713.9L492.4 725.3L505.6 725.3ZM505.8 721.1L499.2 732.5L512.4 732.5ZM512.6 750.9L506.0 762.3L519.2 762.3ZM519.4 768.4L512.8 779.8L526.0 779.8ZM526.2 773.5L519.6 784.9L532.8 784.9ZM532.9 781.5L526.3 792.9L539.5 792.9ZM539.7 786.4L533.1 797.8L546.3 797.8ZM546.5 793.3L539.9 804.7L553.1 804.7ZM553.3 801.4L546.7 812.8L559.9 812.8ZM560.0 810.6L553.4 822.0L566.6 822.0ZM566.8 816.9L560.2 828.3L573.4 828.3ZM573.6 827.1L567.0 838.5L580.2 838.5ZM580.4 834.4L573.8 845.8L587.0 845.8ZM587.1 841.9L580.5 853.3L593.7 853.3ZM593.9 847.9L587.3 859.3L600.5 859.3ZM600.7 858.5L594.1 869.9L607.3 869.9ZM607.5 863.4L600.9 874.8L614.1 874.8ZM614.2 871.4L607.6 882.8L620.8 882.8ZM621.0 878.4L614.4 889.8L627.6 889.8ZM627.8 888.5L621.2 899.9L634.4 899.9ZM634.6 896.9L628.0 908.3L641.2 908.3ZM641.3 904.5L634.7 915.9L647.9 915.9ZM648.1 909.9L641.5 921.3L654.7 921.3ZM654.9 917.0L648.3 928.4L661.5 928.4Z" fill="#f40000"/>
<path d="M112.8 994.2L112.8 943.9L119.6 962.4L126.4 942.4L133.1 955.2L139.9 939.9L146.7 949.0L153.5 940.2L160.2 945.9L167.0 939.0L173.8 942.2L180.6 937.7L187.3 939.3L194.1 934.6L200.9 938.3L207.7 932.3L214.4 933.2L221.2 931.1L228.0 930.0L234.8 927.4L241.5 929.3L248.3 924.0L255.1 924.7L261.9 920.2L268.7 920.7L275.4 916.6L282.2 914.3L289.0 913.6L295.8 912.0L302.5 910.0L309.3 907.1L316.1 905.3L322.9 904.3L329.6 902.2L336.4 900.7L343.2 900.0L350.0 899.0L356.7 896.2L363.5 895.0L370.3 893.8L377.1 892.4L383.9 890.0L390.6 887.1L397.4 884.4L404.2 881.0L411.0 877.1L417.7 872.5L424.5 869.2L431.3 865.8L438.1 861.9L444.8 860.6L451.6 858.7L458.4 848.8L465.2 843.8L471.9 836.8L478.7 828.4L485.5 824.0L492.3 814.4L499.0 804.7L505.8 788.3L512.6 773.4L519.4 739.4L526.2 728.2L532.9 733.8L539.7 720.5L546.5 745.5L553.3 751.8L560.0 748.7L566.8 759.5L573.6 754.0L580.4 760.9L587.1 766.1L593.9 771.2L600.7 773.7L607.5 773.6L614.2 777.9L621.0 783.7L627.8 787.6L634.6 794.0L641.3 799.4L648.1 804.8L654.9 810.0L654.9 994.2Z" fill="rgba(10,150,150,0.74)"/>
<path d="M112.8 943.9L119.6 962.4L126.4 942.4L133.1 955.2L139.9 939.9L146.7 949.0L153.5 940.2L160.2 945.9L167.0 939.0L173.8 942.2L180.6 937.7L187.3 939.3L194.1 934.6L200.9 938.3L207.7 932.3L214.4 933.2L221.2 931.1L228.0 930.0L234.8 927.4L241.5 929.3L248.3 924.0L255.1 924.7L261.9 920.2L268.7 920.7L275.4 916.6L282.2 914.3L289.0 913.6L295.8 912.0L302.5 910.0L309.3 907.1L316.1 905.3L322.9 904.3L329.6 902.2L336.4 900.7L343.2 900.0L350.0 899.0L356.7 896.2L363.5 895.0L370.3 893.8L377.1 892.4L383.9 890.0L390.6 887.1L397.4 884.4L404.2 881.0L411.0 877.1L417.7 872.5L424.5 869.2L431.3 865.8L438.1 861.9L444.8 860.6L451.6 858.7L458.4 848.8L465.2 843.8L471.9 836.8L478.7 828.4L485.5 824.0L492.3 814.4L499.0 804.7L505.8 788.3L512.6 773.4L519.4 739.4L526.2 728.2L532.9 733.8L539.7 720.5L546.5 745.5L553.3 751.8L560.0 748.7L566.8 759.5L573.6 754.0L580.4 760.9L587.1 766.1L593.9 771.2L600.7 773.7L607.5 773.6L614.2 777.9L621.0 783.7L627.8 787.6L634.6 794.0L641.3 799.4L648.1 804.8L654.9 810.0" fill="none" stroke="#f40000" stroke-width="2.6" stroke-linejoin="round"/>
<path d="M112.8 943.9m-5.6 0a5.6 5.6 0 1 0 11.2 0a5.6 5.6 0 1 0 -11.2 0ZM119.6 962.4m-5.6 0a5.6 5.6 0 1 0 11.2 0a5.6 5.6 0 1 0 -11.2 0ZM126.4 942.4m-5.6 0a5.6 5.6 0 1 0 11.2 0a5.6 5.6 0 1 0 -11.2 0ZM133.1 955.2m-5.6 0a5.6 5.6 0 1 0 11.2 0a5.6 5.6 0 1 0 -11.2 0ZM139.9 939.9m-5.6 0a5.6 5.6 0 1 0 11.2 0a5.6 5.6 0 1 0 -11.2 0ZM146.7 949.0m-5.6 0a5.6 5.6 0 1 0 11.2 0a5.6 5.6 0 1 0 -11.2 0ZM153.5 940.2m-5.6 0a5.6 5.6 0 1 0 11.2 0a5.6 5.6 0 1 0 -11.2 0ZM160.2 945.9m-5.6 0a5.6 5.6 0 1 0 11.2 0a5.6 5.6 0 1 0 -11.2 0ZM167.0 939.0m-5.6 0a5.6 5.6 0 1 0 11.2 0a5.6 5.6 0 1 0 -11.2 0ZM173.8 942.2m-5.6 0a5.6 5.6 0 1 0 11.2 0a5.6 5.6 0 1 0 -11.2 0ZM180.6 937.7m-5.6 0a5.6 5.6 0 1 0 11.2 0a5.6 5.6 0 1 0 -11.2 0ZM187.3 939.3m-5.6 0a5.6 5.6 0 1 0 11.2 0a5.6 5.6 0 1 0 -11.2 0ZM194.1 934.6m-5.6 0a5.6 5.6 0 1 0 11.2 0a5.6 5.6 0 1 0 -11.2 0ZM200.9 938.3m-5.6 0a5.6 5.6 0 1 0 11.2 0a5.6 5.6 0 1 0 -11.2 0ZM207.7 932.3m-5.6 0a5.6 5.6 0 1 0 11.2 0a5.6 5.6 0 1 0 -11.2 0ZM214.4 933.2m-5.6 0a5.6 5.6 0 1 0 11.2 0a5.6 5.6 0 1 0 -11.2 0ZM221.2 931.1m-5.6 0a5.6 5.6 0 1 0 11.2 0a5.6 5.6 0 1 0 -11.2 0ZM228.0 930.0m-5.6 0a5.6 5.6 0 1 0 11.2 0a5.6 5.6 0 1 0 -11.2 0ZM234.8 927.4m-5.6 0a5.6 5.6 0 1 0 11.2 0a5.6 5.6 0 1 0 -11.2 0ZM241.5 929.3m-5.6 0a5.6 5.6 0 1 0 11.2 0a5.6 5.6 0 1 0 -11.2 0ZM248.3 924.0m-5.6 0a5.6 5.6 0 1 0 11.2 0a5.6 5.6 0 1 0 -11.2 0ZM255.1 924.7m-5.6 0a5.6 5.6 0 1 0 11.2 0a5.6 5.6 0 1 0 -11.2 0ZM261.9 920.2m-5.6 0a5.6 5.6 0 1 0 11.2 0a5.6 5.6 0 1 0 -11.2 0ZM268.7 920.7m-5.6 0a5.6 5.6 0 1 0 11.2 0a5.6 5.6 0 1 0 -11.2 0ZM275.4 916.6m-5.6 0a5.6 5.6 0 1 0 11.2 0a5.6 5.6 0 1 0 -11.2 0ZM282.2 914.3m-5.6 0a5.6 5.6 0 1 0 11.2 0a5.6 5.6 0 1 0 -11.2 0ZM289.0 913.6m-5.6 0a5.6 5.6 0 1 0 11.2 0a5.6 5.6 0 1 0 -11.2 0ZM295.8 912.0m-5.6 0a5.6 5.6 0 1 0 11.2 0a5.6 5.6 0 1 0 -11.2 0ZM302.5 910.0m-5.6 0a5.6 5.6 0 1 0 11.2 0a5.6 5.6 0 1 0 -11.2 0ZM309.3 907.1m-5.6 0a5.6 5.6 0 1 0 11.2 0a5.6 5.6 0 1 0 -11.2 0ZM316.1 905.3m-5.6 0a5.6 5.6 0 1 0 11.2 0a5.6 5.6 0 1 0 -11.2 0ZM322.9 904.3m-5.6 0a5.6 5.6 0 1 0 11.2 0a5.6 5.6 0 1 0 -11.2 0ZM329.6 902.2m-5.6 0a5.6 5.6 0 1 0 11.2 0a5.6 5.6 0 1 0 -11.2 0ZM336.4 900.7m-5.6 0a5.6 5.6 0 1 0 11.2 0a5.6 5.6 0 1 0 -11.2 0ZM343.2 900.0m-5.6 0a5.6 5.6 0 1 0 11.2 0a5.6 5.6 0 1 0 -11.2 0ZM350.0 899.0m-5.6 0a5.6 5.6 0 1 0 11.2 0a5.6 5.6 0 1 0 -11.2 0ZM356.7 896.2m-5.6 0a5.6 5.6 0 1 0 11.2 0a5.6 5.6 0 1 0 -11.2 0ZM363.5 895.0m-5.6 0a5.6 5.6 0 1 0 11.2 0a5.6 5.6 0 1 0 -11.2 0ZM370.3 893.8m-5.6 0a5.6 5.6 0 1 0 11.2 0a5.6 5.6 0 1 0 -11.2 0ZM377.1 892.4m-5.6 0a5.6 5.6 0 1 0 11.2 0a5.6 5.6 0 1 0 -11.2 0ZM383.9 890.0m-5.6 0a5.6 5.6 0 1 0 11.2 0a5.6 5.6 0 1 0 -11.2 0ZM390.6 887.1m-5.6 0a5.6 5.6 0 1 0 11.2 0a5.6 5.6 0 1 0 -11.2 0ZM397.4 884.4m-5.6 0a5.6 5.6 0 1 0 11.2 0a5.6 5.6 0 1 0 -11.2 0ZM404.2 881.0m-5.6 0a5.6 5.6 0 1 0 11.2 0a5.6 5.6 0 1 0 -11.2 0ZM411.0 877.1m-5.6 0a5.6 5.6 0 1 0 11.2 0a5.6 5.6 0 1 0 -11.2 0ZM417.7 872.5m-5.6 0a5.6 5.6 0 1 0 11.2 0a5.6 5.6 0 1 0 -11.2 0ZM424.5 869.2m-5.6 0a5.6 5.6 0 1 0 11.2 0a5.6 5.6 0 1 0 -11.2 0ZM431.3 865.8m-5.6 0a5.6 5.6 0 1 0 11.2 0a5.6 5.6 0 1 0 -11.2 0ZM438.1 861.9m-5.6 0a5.6 5.6 0 1 0 11.2 0a5.6 5.6 0 1 0 -11.2 0ZM444.8 860.6m-5.6 0a5.6 5.6 0 1 0 11.2 0a5.6 5.6 0 1 0 -11.2 0ZM451.6 858.7m-5.6 0a5.6 5.6 0 1 0 11.2 0a5.6 5.6 0 1 0 -11.2 0ZM458.4 848.8m-5.6 0a5.6 5.6 0 1 0 11.2 0a5.6 5.6 0 1 0 -11.2 0ZM465.2 843.8m-5.6 0a5.6 5.6 0 1 0 11.2 0a5.6 5.6 0 1 0 -11.2 0ZM471.9 836.8m-5.6 0a5.6 5.6 0 1 0 11.2 0a5.6 5.6 0 1 0 -11.2 0ZM478.7 828.4m-5.6 0a5.6 5.6 0 1 0 11.2 0a5.6 5.6 0 1 0 -11.2 0ZM485.5 824.0m-5.6 0a5.6 5.6 0 1 0 11.2 0a5.6 5.6 0 1 0 -11.2 0ZM492.3 814.4m-5.6 0a5.6 5.6 0 1 0 11.2 0a5.6 5.6 0 1 0 -11.2 0ZM499.0 804.7m-5.6 0a5.6 5.6 0 1 0 11.2 0a5.6 5.6 0 1 0 -11.2 0ZM505.8 788.3m-5.6 0a5.6 5.6 0 1 0 11.2 0a5.6 5.6 0 1 0 -11.2 0ZM512.6 773.4m-5.6 0a5.6 5.6 0 1 0 11.2 0a5.6 5.6 0 1 0 -11.2 0ZM519.4 739.4m-5.6 0a5.6 5.6 0 1 0 11.2 0a5.6 5.6 0 1 0 -11.2 0ZM526.2 728.2m-5.6 0a5.6 5.6 0 1 0 11.2 0a5.6 5.6 0 1 0 -11.2 0ZM532.9 733.8m-5.6 0a5.6 5.6 0 1 0 11.2 0a5.6 5.6 0 1 0 -11.2 0ZM539.7 720.5m-5.6 0a5.6 5.6 0 1 0 11.2 0a5.6 5.6 0 1 0 -11.2 0ZM546.5 745.5m-5.6 0a5.6 5.6 0 1 0 11.2 0a5.6 5.6 0 1 0 -11.2 0ZM553.3 751.8m-5.6 0a5.6 5.6 0 1 0 11.2 0a5.6 5.6 0 1 0 -11.2 0ZM560.0 748.7m-5.6 0a5.6 5.6 0 1 0 11.2 0a5.6 5.6 0 1 0 -11.2 0ZM566.8 759.5m-5.6 0a5.6 5.6 0 1 0 11.2 0a5.6 5.6 0 1 0 -11.2 0ZM573.6 754.0m-5.6 0a5.6 5.6 0 1 0 11.2 0a5.6 5.6 0 1 0 -11.2 0ZM580.4 760.9m-5.6 0a5.6 5.6 0 1 0 11.2 0a5.6 5.6 0 1 0 -11.2 0ZM587.1 766.1m-5.6 0a5.6 5.6 0 1 0 11.2 0a5.6 5.6 0 1 0 -11.2 0ZM593.9 771.2m-5.6 0a5.6 5.6 0 1 0 11.2 0a5.6 5.6 0 1 0 -11.2 0ZM600.7 773.7m-5.6 0a5.6 5.6 0 1 0 11.2 0a5.6 5.6 0 1 0 -11.2 0ZM607.5 773.6m-5.6 0a5.6 5.6 0 1 0 11.2 0a5.6 5.6 0 1 0 -11.2 0ZM614.2 777.9m-5.6 0a5.6 5.6 0 1 0 11.2 0a5.6 5.6 0 1 0 -11.2 0ZM621.0 783.7m-5.6 0a5.6 5.6 0 1 0 11.2 0a5.6 5.6 0 1 0 -11.2 0ZM627.8 787.6m-5.6 0a5.6 5.6 0 1 0 11.2 0a5.6 5.6 0 1 0 -11.2 0ZM634.6 794.0m-5.6 0a5.6 5.6 0 1 0 11.2 0a5.6 5.6 0 1 0 -11.2 0ZM641.3 799.4m-5.6 0a5.6 5.6 0 1 0 11.2 0a5.6 5.6 0 1 0 -11.2 0ZM648.1 804.8m-5.6 0a5.6 5.6 0 1 0 11.2 0a5.6 5.6 0 1 0 -11.2 0ZM654.9 810.0m-5.6 0a5.6 5.6 0 1 0 11.2 0a5.6 5.6 0 1 0 -11.2 0Z" fill="#f40000"/>
<path d="M122.2 577.2L123.7 581.1M135.8 583.1L137.2 586.4M149.5 589.0L150.7 591.8M163.1 594.9L164.1 597.1M176.9 601.4L177.4 602.5M509.0 789.0L509.4 789.8M514.9 802.6L517.1 809.2M521.8 822.4L523.7 827.7M528.4 840.9L530.7 847.5M535.3 860.7L537.3 866.1M541.7 879.3L544.5 888.4M549.0 901.6L550.7 905.8" fill="none" stroke="#0000f0" stroke-width="2.6" stroke-linecap="round"/>
<path d="M112.8 582.3m-5.6 0a5.6 5.6 0 1 0 11.2 0a5.6 5.6 0 1 0 -11.2 0ZM119.6 570.7m-5.6 0a5.6 5.6 0 1 0 11.2 0a5.6 5.6 0 1 0 -11.2 0ZM126.4 587.6m-5.6 0a5.6 5.6 0 1 0 11.2 0a5.6 5.6 0 1 0 -11.2 0ZM133.1 576.6m-5.6 0a5.6 5.6 0 1 0 11.2 0a5.6 5.6 0 1 0 -11.2 0ZM139.9 592.9m-5.6 0a5.6 5.6 0 1 0 11.2 0a5.6 5.6 0 1 0 -11.2 0ZM146.7 582.6m-5.6 0a5.6 5.6 0 1 0 11.2 0a5.6 5.6 0 1 0 -11.2 0ZM153.5 598.2m-5.6 0a5.6 5.6 0 1 0 11.2 0a5.6 5.6 0 1 0 -11.2 0ZM160.2 588.5m-5.6 0a5.6 5.6 0 1 0 11.2 0a5.6 5.6 0 1 0 -11.2 0ZM167.0 603.5m-5.6 0a5.6 5.6 0 1 0 11.2 0a5.6 5.6 0 1 0 -11.2 0ZM173.8 595.1m-5.6 0a5.6 5.6 0 1 0 11.2 0a5.6 5.6 0 1 0 -11.2 0ZM180.6 608.7m-5.6 0a5.6 5.6 0 1 0 11.2 0a5.6 5.6 0 1 0 -11.2 0ZM187.3 602.4m-5.6 0a5.6 5.6 0 1 0 11.2 0a5.6 5.6 0 1 0 -11.2 0ZM194.1 614.0m-5.6 0a5.6 5.6 0 1 0 11.2 0a5.6 5.6 0 1 0 -11.2 0ZM200.9 609.0m-5.6 0a5.6 5.6 0 1 0 11.2 0a5.6 5.6 0 1 0 -11.2 0ZM207.7 618.3m-5.6 0a5.6 5.6 0 1 0 11.2 0a5.6 5.6 0 1 0 -11.2 0ZM214.4 615.6m-5.6 0a5.6 5.6 0 1 0 11.2 0a5.6 5.6 0 1 0 -11.2 0ZM221.2 622.9m-5.6 0a5.6 5.6 0 1 0 11.2 0a5.6 5.6 0 1 0 -11.2 0ZM228.0 622.1m-5.6 0a5.6 5.6 0 1 0 11.2 0a5.6 5.6 0 1 0 -11.2 0ZM234.8 627.1m-5.6 0a5.6 5.6 0 1 0 11.2 0a5.6 5.6 0 1 0 -11.2 0ZM241.5 628.8m-5.6 0a5.6 5.6 0 1 0 11.2 0a5.6 5.6 0 1 0 -11.2 0ZM248.3 632.1m-5.6 0a5.6 5.6 0 1 0 11.2 0a5.6 5.6 0 1 0 -11.2 0ZM255.1 635.1m-5.6 0a5.6 5.6 0 1 0 11.2 0a5.6 5.6 0 1 0 -11.2 0ZM261.9 637.8m-5.6 0a5.6 5.6 0 1 0 11.2 0a5.6 5.6 0 1 0 -11.2 0ZM268.7 640.5m-5.6 0a5.6 5.6 0 1 0 11.2 0a5.6 5.6 0 1 0 -11.2 0ZM275.4 643.0m-5.6 0a5.6 5.6 0 1 0 11.2 0a5.6 5.6 0 1 0 -11.2 0ZM282.2 645.5m-5.6 0a5.6 5.6 0 1 0 11.2 0a5.6 5.6 0 1 0 -11.2 0ZM289.0 648.0m-5.6 0a5.6 5.6 0 1 0 11.2 0a5.6 5.6 0 1 0 -11.2 0ZM295.8 650.5m-5.6 0a5.6 5.6 0 1 0 11.2 0a5.6 5.6 0 1 0 -11.2 0ZM302.5 653.1m-5.6 0a5.6 5.6 0 1 0 11.2 0a5.6 5.6 0 1 0 -11.2 0ZM309.3 655.8m-5.6 0a5.6 5.6 0 1 0 11.2 0a5.6 5.6 0 1 0 -11.2 0ZM316.1 658.6m-5.6 0a5.6 5.6 0 1 0 11.2 0a5.6 5.6 0 1 0 -11.2 0ZM322.9 661.5m-5.6 0a5.6 5.6 0 1 0 11.2 0a5.6 5.6 0 1 0 -11.2 0ZM329.6 664.5m-5.6 0a5.6 5.6 0 1 0 11.2 0a5.6 5.6 0 1 0 -11.2 0ZM336.4 667.5m-5.6 0a5.6 5.6 0 1 0 11.2 0a5.6 5.6 0 1 0 -11.2 0ZM343.2 670.6m-5.6 0a5.6 5.6 0 1 0 11.2 0a5.6 5.6 0 1 0 -11.2 0ZM350.0 673.7m-5.6 0a5.6 5.6 0 1 0 11.2 0a5.6 5.6 0 1 0 -11.2 0ZM356.7 676.9m-5.6 0a5.6 5.6 0 1 0 11.2 0a5.6 5.6 0 1 0 -11.2 0ZM363.5 680.2m-5.6 0a5.6 5.6 0 1 0 11.2 0a5.6 5.6 0 1 0 -11.2 0ZM370.3 683.5m-5.6 0a5.6 5.6 0 1 0 11.2 0a5.6 5.6 0 1 0 -11.2 0ZM377.1 686.9m-5.6 0a5.6 5.6 0 1 0 11.2 0a5.6 5.6 0 1 0 -11.2 0ZM383.9 690.3m-5.6 0a5.6 5.6 0 1 0 11.2 0a5.6 5.6 0 1 0 -11.2 0ZM390.6 693.8m-5.6 0a5.6 5.6 0 1 0 11.2 0a5.6 5.6 0 1 0 -11.2 0ZM397.4 697.3m-5.6 0a5.6 5.6 0 1 0 11.2 0a5.6 5.6 0 1 0 -11.2 0ZM404.2 701.0m-5.6 0a5.6 5.6 0 1 0 11.2 0a5.6 5.6 0 1 0 -11.2 0ZM411.0 704.8m-5.6 0a5.6 5.6 0 1 0 11.2 0a5.6 5.6 0 1 0 -11.2 0ZM417.7 708.8m-5.6 0a5.6 5.6 0 1 0 11.2 0a5.6 5.6 0 1 0 -11.2 0ZM424.5 713.0m-5.6 0a5.6 5.6 0 1 0 11.2 0a5.6 5.6 0 1 0 -11.2 0ZM431.3 717.4m-5.6 0a5.6 5.6 0 1 0 11.2 0a5.6 5.6 0 1 0 -11.2 0ZM438.1 721.9m-5.6 0a5.6 5.6 0 1 0 11.2 0a5.6 5.6 0 1 0 -11.2 0ZM444.8 726.6m-5.6 0a5.6 5.6 0 1 0 11.2 0a5.6 5.6 0 1 0 -11.2 0ZM451.6 731.2m-5.6 0a5.6 5.6 0 1 0 11.2 0a5.6 5.6 0 1 0 -11.2 0ZM458.4 735.9m-5.6 0a5.6 5.6 0 1 0 11.2 0a5.6 5.6 0 1 0 -11.2 0ZM465.2 740.7m-5.6 0a5.6 5.6 0 1 0 11.2 0a5.6 5.6 0 1 0 -11.2 0ZM471.9 745.8m-5.6 0a5.6 5.6 0 1 0 11.2 0a5.6 5.6 0 1 0 -11.2 0ZM478.7 751.4m-5.6 0a5.6 5.6 0 1 0 11.2 0a5.6 5.6 0 1 0 -11.2 0ZM485.5 757.7m-5.6 0a5.6 5.6 0 1 0 11.2 0a5.6 5.6 0 1 0 -11.2 0ZM492.3 765.1m-5.6 0a5.6 5.6 0 1 0 11.2 0a5.6 5.6 0 1 0 -11.2 0ZM499.0 773.5m-5.6 0a5.6 5.6 0 1 0 11.2 0a5.6 5.6 0 1 0 -11.2 0ZM505.8 782.8m-5.6 0a5.6 5.6 0 1 0 11.2 0a5.6 5.6 0 1 0 -11.2 0ZM512.6 796.0m-5.6 0a5.6 5.6 0 1 0 11.2 0a5.6 5.6 0 1 0 -11.2 0ZM519.4 815.8m-5.6 0a5.6 5.6 0 1 0 11.2 0a5.6 5.6 0 1 0 -11.2 0ZM526.2 834.3m-5.6 0a5.6 5.6 0 1 0 11.2 0a5.6 5.6 0 1 0 -11.2 0ZM532.9 854.1m-5.6 0a5.6 5.6 0 1 0 11.2 0a5.6 5.6 0 1 0 -11.2 0ZM539.7 872.6m-5.6 0a5.6 5.6 0 1 0 11.2 0a5.6 5.6 0 1 0 -11.2 0ZM546.5 895.1m-5.6 0a5.6 5.6 0 1 0 11.2 0a5.6 5.6 0 1 0 -11.2 0ZM553.3 912.3m-5.6 0a5.6 5.6 0 1 0 11.2 0a5.6 5.6 0 1 0 -11.2 0ZM560.0 917.6m-5.6 0a5.6 5.6 0 1 0 11.2 0a5.6 5.6 0 1 0 -11.2 0ZM566.8 924.2m-5.6 0a5.6 5.6 0 1 0 11.2 0a5.6 5.6 0 1 0 -11.2 0ZM573.6 930.8m-5.6 0a5.6 5.6 0 1 0 11.2 0a5.6 5.6 0 1 0 -11.2 0ZM580.4 936.7m-5.6 0a5.6 5.6 0 1 0 11.2 0a5.6 5.6 0 1 0 -11.2 0ZM587.1 941.3m-5.6 0a5.6 5.6 0 1 0 11.2 0a5.6 5.6 0 1 0 -11.2 0ZM593.9 944.5m-5.6 0a5.6 5.6 0 1 0 11.2 0a5.6 5.6 0 1 0 -11.2 0ZM600.7 947.1m-5.6 0a5.6 5.6 0 1 0 11.2 0a5.6 5.6 0 1 0 -11.2 0ZM607.5 949.3m-5.6 0a5.6 5.6 0 1 0 11.2 0a5.6 5.6 0 1 0 -11.2 0ZM614.2 951.3m-5.6 0a5.6 5.6 0 1 0 11.2 0a5.6 5.6 0 1 0 -11.2 0ZM621.0 953.2m-5.6 0a5.6 5.6 0 1 0 11.2 0a5.6 5.6 0 1 0 -11.2 0ZM627.8 955.1m-5.6 0a5.6 5.6 0 1 0 11.2 0a5.6 5.6 0 1 0 -11.2 0ZM634.6 956.8m-5.6 0a5.6 5.6 0 1 0 11.2 0a5.6 5.6 0 1 0 -11.2 0ZM641.3 958.4m-5.6 0a5.6 5.6 0 1 0 11.2 0a5.6 5.6 0 1 0 -11.2 0ZM648.1 959.9m-5.6 0a5.6 5.6 0 1 0 11.2 0a5.6 5.6 0 1 0 -11.2 0ZM654.9 961.2m-5.6 0a5.6 5.6 0 1 0 11.2 0a5.6 5.6 0 1 0 -11.2 0Z" fill="#0000f0"/>
<path d="M461.1 772.0L462.4 775.0M467.0 788.2L470.1 800.2M472.9 813.9L477.7 847.2M479.9 861.0L484.3 886.2M487.7 899.8L490.1 906.9M495.5 919.8L495.9 920.6" fill="none" stroke="#0000f0" stroke-width="2.6" stroke-linecap="round"/>
<path d="M112.8 560.5L106.2 571.9L119.4 571.9ZM119.6 562.1L113.0 573.5L126.2 573.5ZM126.4 563.9L119.8 575.3L133.0 575.3ZM133.1 565.8L126.5 577.2L139.7 577.2ZM139.9 567.8L133.3 579.2L146.5 579.2ZM146.7 569.9L140.1 581.3L153.3 581.3ZM153.5 572.1L146.9 583.5L160.1 583.5ZM160.2 574.4L153.6 585.8L166.8 585.8ZM167.0 576.8L160.4 588.2L173.6 588.2ZM173.8 579.3L167.2 590.7L180.4 590.7ZM180.6 581.9L174.0 593.3L187.2 593.3ZM187.3 584.7L180.7 596.1L193.9 596.1ZM194.1 587.7L187.5 599.1L200.7 599.1ZM200.9 590.9L194.3 602.3L207.5 602.3ZM207.7 594.3L201.1 605.7L214.3 605.7ZM214.4 597.8L207.8 609.2L221.0 609.2ZM221.2 601.4L214.6 612.8L227.8 612.8ZM228.0 605.0L221.4 616.4L234.6 616.4ZM234.8 608.6L228.2 620.0L241.4 620.0ZM241.5 612.0L234.9 623.4L248.1 623.4ZM248.3 615.4L241.7 626.8L254.9 626.8ZM255.1 618.6L248.5 630.0L261.7 630.0ZM261.9 621.7L255.3 633.1L268.5 633.1ZM268.7 624.8L262.1 636.2L275.3 636.2ZM275.4 627.9L268.8 639.3L282.0 639.3ZM282.2 631.0L275.6 642.4L288.8 642.4ZM289.0 634.0L282.4 645.4L295.6 645.4ZM295.8 637.2L289.2 648.6L302.4 648.6ZM302.5 640.3L295.9 651.7L309.1 651.7ZM309.3 643.6L302.7 655.0L315.9 655.0ZM316.1 646.9L309.5 658.3L322.7 658.3ZM322.9 650.4L316.3 661.8L329.5 661.8ZM329.6 653.8L323.0 665.2L336.2 665.2ZM336.4 657.4L329.8 668.8L343.0 668.8ZM343.2 660.9L336.6 672.3L349.8 672.3ZM350.0 664.6L343.4 676.0L356.6 676.0ZM356.7 668.3L350.1 679.7L363.3 679.7ZM363.5 672.0L356.9 683.4L370.1 683.4ZM370.3 675.9L363.7 687.3L376.9 687.3ZM377.1 679.7L370.5 691.1L383.7 691.1ZM383.9 683.7L377.2 695.1L390.5 695.1ZM390.6 687.5L384.0 698.9L397.2 698.9ZM397.4 691.2L390.8 702.6L404.0 702.6ZM404.2 695.1L397.6 706.5L410.8 706.5ZM411.0 699.6L404.4 711.0L417.6 711.0ZM417.7 704.8L411.1 716.2L424.3 716.2ZM424.5 712.2L417.9 723.6L431.1 723.6ZM431.3 720.7L424.7 732.1L437.9 732.1ZM438.1 728.6L431.5 740.0L444.7 740.0ZM444.8 735.7L438.2 747.1L451.4 747.1ZM451.6 746.7L445.0 758.1L458.2 758.1ZM458.4 759.0L451.8 770.4L465.0 770.4ZM465.2 774.8L458.6 786.2L471.8 786.2ZM471.9 800.3L465.3 811.7L478.5 811.7ZM478.7 847.5L472.1 858.9L485.3 858.9ZM485.5 886.5L478.9 897.9L492.1 897.9ZM492.3 907.0L485.7 918.4L498.9 918.4ZM499.0 920.2L492.4 931.6L505.6 931.6ZM505.8 930.8L499.2 942.2L512.4 942.2ZM512.6 938.7L506.0 950.1L519.2 950.1ZM519.4 941.3L512.8 952.7L526.0 952.7ZM526.2 943.7L519.6 955.1L532.8 955.1ZM532.9 945.9L526.3 957.3L539.5 957.3ZM539.7 948.0L533.1 959.4L546.3 959.4ZM546.5 950.0L539.9 961.4L553.1 961.4ZM553.3 951.9L546.7 963.3L559.9 963.3ZM560.0 953.7L553.4 965.1L566.6 965.1ZM566.8 955.5L560.2 966.9L573.4 966.9ZM573.6 957.1L567.0 968.5L580.2 968.5ZM580.4 958.6L573.8 970.0L587.0 970.0ZM587.1 959.8L580.5 971.2L593.7 971.2ZM593.9 960.9L587.3 972.3L600.5 972.3ZM600.7 962.0L594.1 973.4L607.3 973.4ZM607.5 963.0L600.9 974.4L614.1 974.4ZM614.2 964.0L607.6 975.4L620.8 975.4ZM621.0 964.8L614.4 976.2L627.6 976.2ZM627.8 965.6L621.2 977.0L634.4 977.0ZM634.6 966.4L628.0 977.8L641.2 977.8ZM641.3 967.0L634.7 978.4L647.9 978.4ZM648.1 967.4L641.5 978.8L654.7 978.8ZM654.9 967.8L648.3 979.2L661.5 979.2Z" fill="#0000f0"/>
<path d="M413.9 753.4L414.8 755.3M420.5 768.1L421.8 771.1M426.0 784.3L429.8 802.4M432.5 816.1L436.9 841.9M439.2 855.8L443.7 884.2M447.0 897.8L449.5 905.6M454.8 918.5L455.2 919.3" fill="none" stroke="#0000f0" stroke-width="2.6" stroke-linecap="round"/>
<path d="M112.8 556.3L114.2 560.1L118.3 560.3L115.1 562.9L116.2 566.8L112.8 564.6L109.4 566.8L110.5 562.9L107.3 560.3L111.4 560.1ZM119.6 559.1L121.0 562.9L125.1 563.1L121.9 565.7L123.0 569.6L119.6 567.4L116.2 569.6L117.2 565.7L114.1 563.1L118.1 562.9ZM126.4 562.0L127.8 565.8L131.9 566.0L128.7 568.5L129.8 572.5L126.4 570.2L122.9 572.5L124.0 568.5L120.8 566.0L124.9 565.8ZM133.1 564.9L134.6 568.7L138.6 568.9L135.5 571.4L136.5 575.4L133.1 573.1L129.7 575.4L130.8 571.4L127.6 568.9L131.7 568.7ZM139.9 567.8L141.3 571.7L145.4 571.9L142.2 574.4L143.3 578.3L139.9 576.1L136.5 578.3L137.6 574.4L134.4 571.9L138.5 571.7ZM146.7 570.9L148.1 574.7L152.2 574.9L149.0 577.4L150.1 581.4L146.7 579.1L143.3 581.4L144.4 577.4L141.2 574.9L145.2 574.7ZM153.5 573.9L154.9 577.8L159.0 577.9L155.8 580.5L156.9 584.4L153.5 582.2L150.0 584.4L151.1 580.5L147.9 577.9L152.0 577.8ZM160.2 577.1L161.7 580.9L165.7 581.1L162.6 583.6L163.6 587.5L160.2 585.3L156.8 587.5L157.9 583.6L154.7 581.1L158.8 580.9ZM167.0 580.2L168.5 584.0L172.5 584.2L169.3 586.8L170.4 590.7L167.0 588.5L163.6 590.7L164.7 586.8L161.5 584.2L165.6 584.0ZM173.8 583.4L175.2 587.3L179.3 587.4L176.1 590.0L177.2 593.9L173.8 591.7L170.4 593.9L171.5 590.0L168.3 587.4L172.3 587.3ZM180.6 586.7L182.0 590.5L186.1 590.7L182.9 593.3L184.0 597.2L180.6 594.9L177.2 597.2L178.2 593.3L175.0 590.7L179.1 590.5ZM187.3 590.0L188.8 593.9L192.9 594.1L189.7 596.6L190.7 600.5L187.3 598.3L183.9 600.5L185.0 596.6L181.8 594.1L185.9 593.9ZM194.1 593.5L195.6 597.3L199.6 597.5L196.4 600.1L197.5 604.0L194.1 601.8L190.7 604.0L191.8 600.1L188.6 597.5L192.7 597.3ZM200.9 597.1L202.3 600.9L206.4 601.1L203.2 603.6L204.3 607.6L200.9 605.3L197.5 607.6L198.6 603.6L195.4 601.1L199.5 600.9ZM207.7 600.7L209.1 604.5L213.2 604.7L210.0 607.2L211.1 611.2L207.7 608.9L204.3 611.2L205.3 607.2L202.2 604.7L206.2 604.5ZM214.4 604.3L215.9 608.2L220.0 608.4L216.8 610.9L217.9 614.8L214.4 612.6L211.0 614.8L212.1 610.9L208.9 608.4L213.0 608.2ZM221.2 608.0L222.7 611.8L226.7 612.0L223.6 614.6L224.6 618.5L221.2 616.3L217.8 618.5L218.9 614.6L215.7 612.0L219.8 611.8ZM228.0 611.7L229.4 615.5L233.5 615.7L230.3 618.2L231.4 622.2L228.0 619.9L224.6 622.2L225.7 618.2L222.5 615.7L226.6 615.5ZM234.8 615.3L236.2 619.1L240.3 619.3L237.1 621.9L238.2 625.8L234.8 623.6L231.4 625.8L232.4 621.9L229.3 619.3L233.3 619.1ZM241.5 618.9L243.0 622.7L247.1 622.9L243.9 625.4L245.0 629.4L241.5 627.1L238.1 629.4L239.2 625.4L236.0 622.9L240.1 622.7ZM248.3 622.4L249.8 626.2L253.8 626.4L250.7 628.9L251.7 632.9L248.3 630.6L244.9 632.9L246.0 628.9L242.8 626.4L246.9 626.2ZM255.1 625.7L256.5 629.5L260.6 629.7L257.4 632.3L258.5 636.2L255.1 634.0L251.7 636.2L252.8 632.3L249.6 629.7L253.7 629.5ZM261.9 629.0L263.3 632.8L267.4 633.0L264.2 635.5L265.3 639.5L261.9 637.2L258.5 639.5L259.5 635.5L256.4 633.0L260.4 632.8ZM268.7 632.1L270.1 635.9L274.2 636.1L271.0 638.7L272.1 642.6L268.7 640.4L265.2 642.6L266.3 638.7L263.1 636.1L267.2 635.9ZM275.4 635.2L276.9 639.0L280.9 639.2L277.8 641.8L278.8 645.7L275.4 643.5L272.0 645.7L273.1 641.8L269.9 639.2L274.0 639.0ZM282.2 638.3L283.6 642.2L287.7 642.3L284.5 644.9L285.6 648.8L282.2 646.6L278.8 648.8L279.9 644.9L276.7 642.3L280.8 642.2ZM289.0 641.5L290.4 645.3L294.5 645.5L291.3 648.1L292.4 652.0L289.0 649.7L285.6 652.0L286.7 648.1L283.5 645.5L287.5 645.3ZM295.8 644.7L297.2 648.6L301.3 648.7L298.1 651.3L299.2 655.2L295.8 653.0L292.3 655.2L293.4 651.3L290.2 648.7L294.3 648.6ZM302.5 648.1L304.0 651.9L308.1 652.1L304.9 654.7L305.9 658.6L302.5 656.4L299.1 658.6L300.2 654.7L297.0 652.1L301.1 651.9ZM309.3 651.7L310.8 655.5L314.8 655.7L311.6 658.2L312.7 662.1L309.3 659.9L305.9 662.1L307.0 658.2L303.8 655.7L307.9 655.5ZM316.1 655.4L317.5 659.2L321.6 659.4L318.4 662.0L319.5 665.9L316.1 663.7L312.7 665.9L313.8 662.0L310.6 659.4L314.6 659.2ZM322.9 659.4L324.3 663.2L328.4 663.4L325.2 666.0L326.3 669.9L322.9 667.6L319.5 669.9L320.5 666.0L317.3 663.4L321.4 663.2ZM329.6 663.6L331.1 667.4L335.2 667.6L332.0 670.2L333.0 674.1L329.6 671.9L326.2 674.1L327.3 670.2L324.1 667.6L328.2 667.4ZM336.4 668.1L337.9 671.9L341.9 672.1L338.7 674.7L339.8 678.6L336.4 676.4L333.0 678.6L334.1 674.7L330.9 672.1L335.0 671.9ZM343.2 672.8L344.6 676.7L348.7 676.9L345.5 679.4L346.6 683.3L343.2 681.1L339.8 683.3L340.9 679.4L337.7 676.9L341.8 676.7ZM350.0 677.9L351.4 681.7L355.5 681.9L352.3 684.4L353.4 688.4L350.0 686.1L346.6 688.4L347.6 684.4L344.5 681.9L348.5 681.7ZM356.7 683.2L358.2 687.0L362.3 687.2L359.1 689.8L360.2 693.7L356.7 691.5L353.3 693.7L354.4 689.8L351.2 687.2L355.3 687.0ZM363.5 688.9L365.0 692.7L369.0 692.9L365.9 695.5L366.9 699.4L363.5 697.2L360.1 699.4L361.2 695.5L358.0 692.9L362.1 692.7ZM370.3 695.0L371.7 698.8L375.8 699.0L372.6 701.6L373.7 705.5L370.3 703.2L366.9 705.5L368.0 701.6L364.8 699.0L368.9 698.8ZM377.1 701.4L378.5 705.3L382.6 705.4L379.4 708.0L380.5 711.9L377.1 709.7L373.7 711.9L374.7 708.0L371.6 705.4L375.6 705.3ZM383.9 708.3L385.3 712.1L389.4 712.3L386.2 714.8L387.3 718.8L383.9 716.5L380.4 718.8L381.5 714.8L378.3 712.3L382.4 712.1ZM390.6 715.9L392.1 719.7L396.1 719.9L393.0 722.4L394.0 726.4L390.6 724.1L387.2 726.4L388.3 722.4L385.1 719.9L389.2 719.7ZM397.4 724.1L398.8 727.9L402.9 728.1L399.7 730.7L400.8 734.6L397.4 732.4L394.0 734.6L395.1 730.7L391.9 728.1L396.0 727.9ZM404.2 732.0L405.6 735.8L409.7 736.0L406.5 738.5L407.6 742.5L404.2 740.2L400.8 742.5L401.8 738.5L398.7 736.0L402.7 735.8ZM411.0 741.3L412.4 745.1L416.5 745.3L413.3 747.9L414.4 751.8L411.0 749.5L407.5 751.8L408.6 747.9L405.4 745.3L409.5 745.1ZM417.7 755.8L419.2 759.7L423.2 759.8L420.1 762.4L421.1 766.3L417.7 764.1L414.3 766.3L415.4 762.4L412.2 759.8L416.3 759.7ZM424.5 771.7L425.9 775.5L430.0 775.7L426.8 778.2L427.9 782.2L424.5 779.9L421.1 782.2L422.2 778.2L419.0 775.7L423.1 775.5ZM431.3 803.4L432.7 807.2L436.8 807.4L433.6 810.0L434.7 813.9L431.3 811.7L427.9 813.9L429.0 810.0L425.8 807.4L429.8 807.2ZM438.1 843.0L439.5 846.9L443.6 847.1L440.4 849.6L441.5 853.5L438.1 851.3L434.7 853.5L435.7 849.6L432.5 847.1L436.6 846.9ZM444.8 885.3L446.3 889.1L450.4 889.3L447.2 891.9L448.2 895.8L444.8 893.6L441.4 895.8L442.5 891.9L439.3 889.3L443.4 889.1ZM451.6 906.5L453.1 910.3L457.1 910.5L453.9 913.0L455.0 917.0L451.6 914.7L448.2 917.0L449.3 913.0L446.1 910.5L450.2 910.3ZM458.4 919.7L459.8 923.5L463.9 923.7L460.7 926.2L461.8 930.2L458.4 927.9L455.0 930.2L456.1 926.2L452.9 923.7L456.9 923.5ZM465.2 928.9L466.6 932.8L470.7 932.9L467.5 935.5L468.6 939.4L465.2 937.2L461.8 939.4L462.8 935.5L459.6 932.9L463.7 932.8ZM471.9 935.5L473.4 939.4L477.5 939.6L474.3 942.1L475.4 946.0L471.9 943.8L468.5 946.0L469.6 942.1L466.4 939.6L470.5 939.4ZM478.7 940.7L480.2 944.6L484.2 944.7L481.0 947.3L482.1 951.2L478.7 949.0L475.3 951.2L476.4 947.3L473.2 944.7L477.3 944.6ZM485.5 944.8L486.9 948.6L491.0 948.8L487.8 951.4L488.9 955.3L485.5 953.0L482.1 955.3L483.2 951.4L480.0 948.8L484.1 948.6ZM492.3 947.9L493.7 951.7L497.8 951.9L494.6 954.5L495.7 958.4L492.3 956.2L488.9 958.4L489.9 954.5L486.8 951.9L490.8 951.7ZM499.0 950.7L500.5 954.5L504.6 954.7L501.4 957.2L502.5 961.2L499.0 958.9L495.6 961.2L496.7 957.2L493.5 954.7L497.6 954.5ZM505.8 953.1L507.3 956.9L511.3 957.1L508.2 959.6L509.2 963.6L505.8 961.3L502.4 963.6L503.5 959.6L500.3 957.1L504.4 956.9ZM512.6 955.1L514.0 958.9L518.1 959.1L514.9 961.6L516.0 965.6L512.6 963.3L509.2 965.6L510.3 961.6L507.1 959.1L511.2 958.9ZM519.4 956.7L520.8 960.5L524.9 960.7L521.7 963.2L522.8 967.2L519.4 964.9L516.0 967.2L517.0 963.2L513.9 960.7L517.9 960.5ZM526.2 958.0L527.6 961.8L531.7 962.0L528.5 964.6L529.6 968.5L526.2 966.3L522.7 968.5L523.8 964.6L520.6 962.0L524.7 961.8ZM532.9 959.2L534.4 963.1L538.4 963.3L535.3 965.8L536.3 969.7L532.9 967.5L529.5 969.7L530.6 965.8L527.4 963.3L531.5 963.1ZM539.7 960.4L541.1 964.2L545.2 964.4L542.0 966.9L543.1 970.8L539.7 968.6L536.3 970.8L537.4 966.9L534.2 964.4L538.3 964.2ZM546.5 961.4L547.9 965.2L552.0 965.4L548.8 967.9L549.9 971.9L546.5 969.6L543.1 971.9L544.1 967.9L541.0 965.4L545.0 965.2ZM553.3 962.3L554.7 966.1L558.8 966.3L555.6 968.8L556.7 972.8L553.3 970.5L549.8 972.8L550.9 968.8L547.7 966.3L551.8 966.1ZM560.0 963.1L561.5 967.0L565.5 967.1L562.4 969.7L563.4 973.6L560.0 971.4L556.6 973.6L557.7 969.7L554.5 967.1L558.6 967.0ZM566.8 963.9L568.2 967.7L572.3 967.9L569.1 970.5L570.2 974.4L566.8 972.2L563.4 974.4L564.5 970.5L561.3 967.9L565.4 967.7ZM573.6 964.6L575.0 968.5L579.1 968.6L575.9 971.2L577.0 975.1L573.6 972.9L570.2 975.1L571.3 971.2L568.1 968.6L572.1 968.5ZM580.4 965.3L581.8 969.1L585.9 969.3L582.7 971.9L583.8 975.8L580.4 973.6L577.0 975.8L578.0 971.9L574.8 969.3L578.9 969.1ZM587.1 965.9L588.6 969.8L592.7 969.9L589.5 972.5L590.5 976.4L587.1 974.2L583.7 976.4L584.8 972.5L581.6 969.9L585.7 969.8ZM593.9 966.5L595.4 970.4L599.4 970.6L596.2 973.1L597.3 977.0L593.9 974.8L590.5 977.0L591.6 973.1L588.4 970.6L592.5 970.4ZM600.7 967.1L602.1 971.0L606.2 971.1L603.0 973.7L604.1 977.6L600.7 975.4L597.3 977.6L598.4 973.7L595.2 971.1L599.2 971.0ZM607.5 967.7L608.9 971.5L613.0 971.7L609.8 974.3L610.9 978.2L607.5 975.9L604.1 978.2L605.1 974.3L602.0 971.7L606.0 971.5ZM614.2 968.2L615.7 972.0L619.8 972.2L616.6 974.8L617.7 978.7L614.2 976.5L610.8 978.7L611.9 974.8L608.7 972.2L612.8 972.0ZM621.0 968.7L622.5 972.5L626.5 972.7L623.3 975.3L624.4 979.2L621.0 977.0L617.6 979.2L618.7 975.3L615.5 972.7L619.6 972.5ZM627.8 969.2L629.2 973.0L633.3 973.2L630.1 975.7L631.2 979.7L627.8 977.4L624.4 979.7L625.5 975.7L622.3 973.2L626.4 973.0ZM634.6 969.6L636.0 973.4L640.1 973.6L636.9 976.2L638.0 980.1L634.6 977.9L631.2 980.1L632.2 976.2L629.1 973.6L633.1 973.4ZM641.3 970.0L642.8 973.8L646.9 974.0L643.7 976.5L644.8 980.5L641.3 978.2L637.9 980.5L639.0 976.5L635.8 974.0L639.9 973.8ZM648.1 970.3L649.6 974.1L653.6 974.3L650.5 976.9L651.5 980.8L648.1 978.5L644.7 980.8L645.8 976.9L642.6 974.3L646.7 974.1ZM654.9 970.6L656.3 974.4L660.4 974.6L657.2 977.1L658.3 981.1L654.9 978.8L651.5 981.1L652.6 977.1L649.4 974.6L653.5 974.4Z" fill="#0000f0"/>
</g>
<path d="M112.6 24.9H654.7V461.2H112.6Z" fill="none" stroke="#262626" stroke-width="1.9"/>
<path d="M112.6 461.2v8.6M180.4 461.2v8.6M248.1 461.2v8.6M315.9 461.2v8.6M383.6 461.2v8.6M451.4 461.2v8.6M519.2 461.2v8.6M586.9 461.2v8.6M654.7 461.2v8.6M146.5 461.2v4.6M214.2 461.2v4.6M282.0 461.2v4.6M349.8 461.2v4.6M417.5 461.2v4.6M485.3 461.2v4.6M553.1 461.2v4.6M620.8 461.2v4.6M112.6 461.2h-9.2M112.6 315.8h-9.2M112.6 170.3h-9.2M112.6 24.9h-9.2M112.6 388.5h-4.8M112.6 243.0h-4.8M112.6 97.6h-4.8M654.7 460.1h9.2M654.7 393.3h9.2M654.7 326.6h9.2M654.7 259.8h9.2M654.7 193.0h9.2M654.7 126.3h9.2M654.7 59.5h9.2M654.7 426.7h4.8M654.7 360.0h4.8M654.7 293.2h4.8M654.7 226.4h4.8M654.7 159.7h4.8M654.7 92.9h4.8" fill="none" stroke="#262626" stroke-width="1.9"/>
<text x="112.6" y="497.8" font-size="29.5" text-anchor="middle" fill="#111">10</text>
<text x="180.4" y="497.8" font-size="29.5" text-anchor="middle" fill="#111">20</text>
<text x="248.1" y="497.8" font-size="29.5" text-anchor="middle" fill="#111">30</text>
<text x="315.9" y="497.8" font-size="29.5" text-anchor="middle" fill="#111">40</text>
<text x="383.6" y="497.8" font-size="29.5" text-anchor="middle" fill="#111">50</text>
<text x="451.4" y="497.8" font-size="29.5" text-anchor="middle" fill="#111">60</text>
<text x="519.2" y="497.8" font-size="29.5" text-anchor="middle" fill="#111">70</text>
<text x="586.9" y="497.8" font-size="29.5" text-anchor="middle" fill="#111">80</text>
<text x="654.7" y="497.8" font-size="29.5" text-anchor="middle" fill="#111">90</text>
<text x="97.3" y="470.0" font-size="29.5" text-anchor="end" fill="#1414f0">0</text>
<text x="97.3" y="324.6" font-size="29.5" text-anchor="end" fill="#1414f0">1</text>
<text x="97.3" y="179.1" font-size="29.5" text-anchor="end" fill="#1414f0">2</text>
<text x="97.3" y="33.7" font-size="29.5" text-anchor="end" fill="#1414f0">3</text>
<text x="669.1" y="468.7" font-size="29.5" fill="#f01010">0.0</text>
<text x="669.1" y="401.9" font-size="29.5" fill="#f01010">0.1</text>
<text x="669.1" y="335.2" font-size="29.5" fill="#f01010">0.2</text>
<text x="669.1" y="268.4" font-size="29.5" fill="#f01010">0.3</text>
<text x="669.1" y="201.6" font-size="29.5" fill="#f01010">0.4</text>
<text x="669.1" y="134.9" font-size="29.5" fill="#f01010">0.5</text>
<text x="669.1" y="68.1" font-size="29.5" fill="#f01010">0.6</text>
<path d="M112.8 558.8H654.9V994.2H112.8Z" fill="none" stroke="#262626" stroke-width="1.9"/>
<path d="M112.8 994.2v8.6M180.6 994.2v8.6M248.3 994.2v8.6M316.1 994.2v8.6M383.9 994.2v8.6M451.6 994.2v8.6M519.4 994.2v8.6M587.1 994.2v8.6M654.9 994.2v8.6M146.7 994.2v4.6M214.4 994.2v4.6M282.2 994.2v4.6M350.0 994.2v4.6M417.7 994.2v4.6M485.5 994.2v4.6M553.3 994.2v4.6M621.0 994.2v4.6M112.8 994.2h-9.2M112.8 862.1h-9.2M112.8 729.9h-9.2M112.8 597.8h-9.2M112.8 928.1h-4.8M112.8 796.0h-4.8M112.8 663.9h-4.8M654.9 994.2h9.2M654.9 897.5h9.2M654.9 800.9h9.2M654.9 704.2h9.2M654.9 607.5h9.2M654.9 945.9h4.8M654.9 849.2h4.8M654.9 752.5h4.8M654.9 655.9h4.8" fill="none" stroke="#262626" stroke-width="1.9"/>
<text x="112.8" y="1030.8" font-size="29.5" text-anchor="middle" fill="#111">10</text>
<text x="180.6" y="1030.8" font-size="29.5" text-anchor="middle" fill="#111">20</text>
<text x="248.3" y="1030.8" font-size="29.5" text-anchor="middle" fill="#111">30</text>
<text x="316.1" y="1030.8" font-size="29.5" text-anchor="middle" fill="#111">40</text>
<text x="383.9" y="1030.8" font-size="29.5" text-anchor="middle" fill="#111">50</text>
<text x="451.6" y="1030.8" font-size="29.5" text-anchor="middle" fill="#111">60</text>
<text x="519.4" y="1030.8" font-size="29.5" text-anchor="middle" fill="#111">70</text>
<text x="587.1" y="1030.8" font-size="29.5" text-anchor="middle" fill="#111">80</text>
<text x="654.9" y="1030.8" font-size="29.5" text-anchor="middle" fill="#111">90</text>
<text x="97.5" y="1003.0" font-size="29.5" text-anchor="end" fill="#1414f0">0</text>
<text x="97.5" y="870.9" font-size="29.5" text-anchor="end" fill="#1414f0">1</text>
<text x="97.5" y="738.7" font-size="29.5" text-anchor="end" fill="#1414f0">2</text>
<text x="97.5" y="606.6" font-size="29.5" text-anchor="end" fill="#1414f0">3</text>
<text x="669.3" y="1002.8" font-size="29.5" fill="#f01010">0.15</text>
<text x="669.3" y="906.1" font-size="29.5" fill="#f01010">0.20</text>
<text x="669.3" y="809.5" font-size="29.5" fill="#f01010">0.25</text>
<text x="669.3" y="712.8" font-size="29.5" fill="#f01010">0.30</text>
<text x="669.3" y="616.1" font-size="29.5" fill="#f01010">0.35</text>
<path d="M112.6 331.9V460.2" stroke="#c80000" stroke-width="1.9" opacity="0.85"/>
<path d="M654.7 422.7V460.2" stroke="#a00000" stroke-width="1.9" opacity="0.55"/>
<path d="M112.8 936.3V993.2" stroke="#c80000" stroke-width="1.9" opacity="0.85"/>
<path d="M654.9 810.0V993.2" stroke="#a00000" stroke-width="1.9" opacity="0.55"/>
<text x="383.9" y="535" font-size="36.3" text-anchor="middle" fill="#111" textLength="248.3" lengthAdjust="spacingAndGlyphs">Temperature (K)</text>
<text x="383.9" y="1067.5" font-size="36.3" text-anchor="middle" fill="#111" textLength="248.3" lengthAdjust="spacingAndGlyphs">Temperature (K)</text>
<text transform="translate(73.8 243) rotate(-90)" font-size="30" text-anchor="middle" fill="#1414f0" textLength="316" lengthAdjust="spacingAndGlyphs">Magnetic Monoent (μB/Cr)</text>
<text transform="translate(73.8 777) rotate(-90)" font-size="30" text-anchor="middle" fill="#1414f0" textLength="324" lengthAdjust="spacingAndGlyphs">Magnetic Monment (μB/Cr)</text>
<text transform="translate(716.5 243) rotate(90)" font-size="29.5" text-anchor="middle" fill="#f01010" textLength="364" lengthAdjust="spacingAndGlyphs">Specific Heat Capacity (C/10<tspan font-size="19" dy="-11">-8</tspan><tspan dy="11">)</tspan></text>
<text transform="translate(730.5 777) rotate(90)" font-size="29.5" text-anchor="middle" fill="#f01010" textLength="364" lengthAdjust="spacingAndGlyphs">Specific Heat Capacity (C/10<tspan font-size="19" dy="-11">-8</tspan><tspan dy="11">)</tspan></text>
<rect x="433.6" y="62.2" width="205.8" height="120.4" fill="#fff" stroke="#262626" stroke-width="1.7"/>
<path d="M442.5 83.5H462.6M477.4 83.5H498.0" stroke="#0000f0" stroke-width="2.5" stroke-linecap="round"/>
<circle cx="470.0" cy="83.5" r="5.3" fill="#0000f0"/>
<path d="M503.0 83.5H523.4M538.2 83.5H558.2" stroke="#f40000" stroke-width="2.5" stroke-linecap="round"/>
<circle cx="530.8" cy="83.5" r="5.3" fill="#f40000"/>
<text x="565.0" y="91.5" font-size="24.4" fill="#111">CrCl<tspan font-size="16" dy="6.5">3</tspan></text>
<path d="M442.5 119.6H462.4M477.6 119.6H498.0" stroke="#0000f0" stroke-width="2.5" stroke-linecap="round"/>
<path d="M470.0 113.6L464.1 123.9L475.9 123.9Z" fill="#0000f0"/>
<path d="M503.0 119.6H523.2M538.4 119.6H558.2" stroke="#f40000" stroke-width="2.5" stroke-linecap="round"/>
<path d="M530.8 113.6L524.9 123.9L536.7 123.9Z" fill="#f40000"/>
<text x="565.0" y="127.6" font-size="24.4" fill="#111">CrBr<tspan font-size="16" dy="6.5">3</tspan></text>
<path d="M442.5 156.2H463.4M476.6 156.2H498.0" stroke="#0000f0" stroke-width="2.5" stroke-linecap="round"/>
<path d="M470.0 151.1L471.3 154.7L475.1 154.8L472.1 157.2L473.2 160.9L470.0 158.7L466.8 160.9L467.9 157.2L464.9 154.8L468.7 154.7Z" fill="#0000f0"/>
<path d="M503.0 156.2H524.2M537.4 156.2H558.2" stroke="#f40000" stroke-width="2.5" stroke-linecap="round"/>
<path d="M530.8 151.1L532.1 154.7L535.9 154.8L532.9 157.2L534.0 160.9L530.8 158.7L527.6 160.9L528.7 157.2L525.7 154.8L529.5 154.7Z" fill="#f40000"/>
<text x="565.0" y="164.2" font-size="24.4" fill="#111">CrI<tspan font-size="16" dy="6.5">3</tspan></text>
<rect x="127.3" y="716.6" width="242.5" height="116.0" fill="#fff" stroke="#262626" stroke-width="1.7"/>
<path d="M129.5 735.8H149.6M164.4 735.8H183.9" stroke="#0000f0" stroke-width="2.5" stroke-linecap="round"/>
<circle cx="157.0" cy="735.8" r="5.3" fill="#0000f0"/>
<path d="M190.6 735.8H209.3M224.1 735.8H243.4" stroke="#f40000" stroke-width="2.5" stroke-linecap="round"/>
<circle cx="216.7" cy="735.8" r="5.3" fill="#f40000"/>
<text x="250.3" y="743.8" font-size="24.4" fill="#111">Cu(CrCl<tspan font-size="16" dy="6.5">3</tspan><tspan dy="-6.5">)</tspan><tspan font-size="16" dy="6.5">2</tspan></text>
<path d="M129.5 770.3H149.4M164.6 770.3H183.9" stroke="#0000f0" stroke-width="2.5" stroke-linecap="round"/>
<path d="M157.0 764.3L151.1 774.6L162.9 774.6Z" fill="#0000f0"/>
<path d="M190.6 770.3H209.1M224.3 770.3H243.4" stroke="#f40000" stroke-width="2.5" stroke-linecap="round"/>
<path d="M216.7 764.3L210.8 774.6L222.6 774.6Z" fill="#f40000"/>
<text x="250.3" y="778.3" font-size="24.4" fill="#111">Cu(CrBr<tspan font-size="16" dy="6.5">3</tspan><tspan dy="-6.5">)</tspan><tspan font-size="16" dy="6.5">2</tspan></text>
<path d="M129.5 806.9H150.4M163.6 806.9H183.9" stroke="#0000f0" stroke-width="2.5" stroke-linecap="round"/>
<path d="M157.0 801.8L158.3 805.4L162.1 805.5L159.1 807.9L160.2 811.6L157.0 809.4L153.8 811.6L154.9 807.9L151.9 805.5L155.7 805.4Z" fill="#0000f0"/>
<path d="M190.6 806.9H210.1M223.3 806.9H243.4" stroke="#f40000" stroke-width="2.5" stroke-linecap="round"/>
<path d="M216.7 801.8L218.0 805.4L221.8 805.5L218.8 807.9L219.9 811.6L216.7 809.4L213.5 811.6L214.6 807.9L211.6 805.5L215.4 805.4Z" fill="#f40000"/>
<text x="250.3" y="814.9" font-size="24.4" fill="#111">Cu(CrI<tspan font-size="16" dy="6.5">3</tspan><tspan dy="-6.5">)</tspan><tspan font-size="16" dy="6.5">2</tspan></text>
<text x="13.5" y="49.6" font-size="60" fill="#000">a</text>
<text x="812.4" y="47.4" font-size="60" fill="#000">b</text>
<text x="13.5" y="564.5" font-size="60" fill="#000">c</text>
<text x="812.5" y="566.6" font-size="60" fill="#000">d</text>
<defs>
<linearGradient id="gR" gradientUnits="objectBoundingBox" x1="0" y1="0" x2="1" y2="0"><stop offset="0" stop-color="#dde9f6"/><stop offset="0.16" stop-color="#d9e2f2"/><stop offset="0.36" stop-color="#e3a9b8"/><stop offset="0.58" stop-color="#ea6a76"/><stop offset="0.9" stop-color="#f23a40"/><stop offset="0.955" stop-color="#fb0a0c"/><stop offset="1" stop-color="#ff0000"/></linearGradient>
<linearGradient id="gG" gradientUnits="objectBoundingBox" x1="0" y1="0" x2="1" y2="0"><stop offset="0" stop-color="#b4b9c7"/><stop offset="0.25" stop-color="#a4a9b7"/><stop offset="0.55" stop-color="#6f737d"/><stop offset="0.88" stop-color="#4f5259"/><stop offset="0.95" stop-color="#3a3b3f"/><stop offset="1" stop-color="#262627"/></linearGradient>
<linearGradient id="gG2" gradientUnits="objectBoundingBox" x1="0" y1="0" x2="1" y2="0"><stop offset="0" stop-color="#b9c0d0"/><stop offset="0.3" stop-color="#9096a3"/><stop offset="0.7" stop-color="#555962"/><stop offset="1" stop-color="#4a4d55"/></linearGradient>
<radialGradient id="sCr" cx="0.5" cy="0.56" r="0.5" fx="0.5" fy="0.56"><stop offset="0" stop-color="#ffffff"/><stop offset="0.16" stop-color="#ffffff"/><stop offset="0.42" stop-color="#b9c1da"/><stop offset="0.7" stop-color="#8d97b6"/><stop offset="1" stop-color="#7a83a3"/></radialGradient>
<radialGradient id="sCl" cx="0.54" cy="0.5" r="0.5" fx="0.54" fy="0.5"><stop offset="0" stop-color="#ffffff"/><stop offset="0.18" stop-color="#ffffff"/><stop offset="0.45" stop-color="#dcc6c6"/><stop offset="0.72" stop-color="#bea2a2"/><stop offset="1" stop-color="#a98f90"/></radialGradient>
</defs>
<path transform="translate(1037.7 267.9) rotate(-90.0)" d="M0 0 C30.2 -20.4 56.7 -29.2 75.6 -29.2 C99.7 -29.2 114.5 -18.1 114.5 0 C114.5 18.1 99.7 29.2 75.6 29.2 C56.7 29.2 30.2 20.4 0 0Z" fill="url(#gG)" stroke="#2c2d31" stroke-width="1"/>
<path transform="translate(1037.7 267.9) rotate(90.0)" d="M0 0 C30.9 -20.4 58.0 -29.2 77.4 -29.2 C102.1 -29.2 117.2 -18.1 117.2 0 C117.2 18.1 102.1 29.2 77.4 29.2 C58.0 29.2 30.9 20.4 0 0Z" fill="url(#gG)" stroke="#2c2d31" stroke-width="1"/>
<path transform="translate(1033.0 267.9) rotate(180.0)" d="M0 0 C31.3 -15.3 50.1 -29.4 69.6 -29.4 C93.9 -29.4 108.8 -18.2 108.8 0 C108.8 18.2 93.9 29.4 69.6 29.4 C50.1 29.4 31.3 15.3 0 0Z" fill="url(#gR)" stroke="#3f5fa8" stroke-width="1.1"/>
<path transform="translate(1033.0 267.9) rotate(0.0)" d="M0 0 C34.6 -14.7 47.6 -29.4 86.5 -29.4 C109.5 -29.4 123.6 -18.2 123.6 0 C123.6 18.2 109.5 29.4 86.5 29.4 C47.6 29.4 34.6 14.7 0 0Z" fill="url(#gR)" stroke="#3f5fa8" stroke-width="1.1"/>
<path transform="translate(1169.2 138.1) rotate(43.5)" d="M0 0 C26.9 -22.8 50.5 -32.5 67.3 -32.5 C88.8 -32.5 102.0 -20.1 102.0 0 C102.0 20.1 88.8 32.5 67.3 32.5 C50.5 32.5 26.9 22.8 0 0Z" fill="url(#gG2)" stroke="#3a3d45" stroke-width="0.8"/>
<path transform="translate(1169.2 138.1) rotate(-135.0)" d="M0 0 C29.6 -15.3 47.4 -29.5 65.8 -29.5 C85.0 -29.5 96.8 -18.3 96.8 0 C96.8 18.3 85.0 29.5 65.8 29.5 C47.4 29.5 29.6 15.3 0 0Z" fill="url(#gR)" stroke="#3f5fa8" stroke-width="1.1"/>
<path transform="translate(1304.9 265.4) rotate(-135.0)" d="M0 0 C36.2 -15.3 58.0 -29.5 80.5 -29.5 C101.9 -29.5 115.0 -18.3 115.0 0 C115.0 18.3 101.9 29.5 80.5 29.5 C58.0 29.5 36.2 15.3 0 0Z" fill="url(#gR)" stroke="#3f5fa8" stroke-width="1.1"/>
<path transform="translate(1304.9 265.4) rotate(47.5)" d="M0 0 C35.1 -15.3 56.2 -29.5 78.0 -29.5 C98.8 -29.5 111.5 -18.3 111.5 0 C111.5 18.3 98.8 29.5 78.0 29.5 C56.2 29.5 35.1 15.3 0 0Z" fill="url(#gR)" stroke="#3f5fa8" stroke-width="1.1"/>
<circle cx="1308.9" cy="269.4" r="16" fill="#8a92ad"/>
<path d="M1045.5 257.6L1160 146.5" stroke="#0a0a0a" stroke-width="2.6" stroke-dasharray="9.5 6" fill="none"/>
<path d="M1180.5 148.5L1297 252.8" stroke="#0a0a0a" stroke-width="3.3" stroke-dasharray="11.5 6.8" fill="none"/>
<path d="M1073.5 236.9A140.6 140.6 0 0 0 1270.5 236.9" stroke="#0aad4e" stroke-width="3.2" stroke-dasharray="13 8.5" fill="none"/>
<rect transform="translate(1304.9 265.4) rotate(-45)" x="-46" y="-14.3" width="92" height="28.6" rx="12" ry="12" fill="#5b606b" stroke="#33415f" stroke-width="1.1"/>
<circle cx="1033.0" cy="267.9" r="18.3" fill="url(#sCr)"/>
<circle cx="1169.2" cy="138.1" r="17.6" fill="url(#sCl)"/>
<path d="M1045.5 257.6L1052.4 251" stroke="#0a0a0a" stroke-width="2.6" fill="none"/>
<path d="M1153.2 153.1L1160 146.5" stroke="#0a0a0a" stroke-width="2.6" fill="none"/>
<text x="1191" y="84.9" font-size="40.5" fill="#0a0a0a" textLength="147.5" lengthAdjust="spacingAndGlyphs">Cl/Br/I-p</text>
<text x="870" y="354.5" font-size="40.5" fill="#0a0a0a" textLength="91" lengthAdjust="spacingAndGlyphs">Cr-t<tspan font-size="27" dy="9">2g</tspan></text>
<text x="1439.3" y="354.5" font-size="40.5" fill="#0a0a0a" textLength="83" lengthAdjust="spacingAndGlyphs">Cr-e<tspan font-size="27" dy="9">g</tspan></text>
<text x="1128.5" y="352.3" font-size="40.5" fill="#0aad4e" textLength="77" lengthAdjust="spacingAndGlyphs">~90°</text>
<text x="1005.3" y="464.4" font-size="58" fill="#0a0a0a" textLength="377.2" lengthAdjust="spacingAndGlyphs">Super-exchange</text>
<path d="M934.6 666.7H1115.8" stroke="#000" stroke-width="7.6"/>
<path d="M934.6 687.9H1115.8" stroke="#000" stroke-width="7.6"/>
<path d="M933.3 823.3H1114.8" stroke="#000" stroke-width="7.6"/>
<path d="M933.3 846.6H1114.8" stroke="#000" stroke-width="7.6"/>
<path d="M933.3 871.2H1114.8" stroke="#000" stroke-width="7.6"/>
<path d="M1283.2 666.7H1463.8" stroke="#000" stroke-width="7.6"/>
<path d="M1283.2 687.9H1463.8" stroke="#000" stroke-width="7.6"/>
<path d="M1281.9 823.3H1462.8" stroke="#000" stroke-width="7.6"/>
<path d="M1281.9 846.6H1462.8" stroke="#000" stroke-width="7.6"/>
<path d="M1281.9 871.2H1462.8" stroke="#000" stroke-width="7.6"/>
<path d="M973.8 790.6L994.4 810.9H983.6V887.8H964.0V810.9H953.2Z" fill="#0000ff"/>
<path d="M1025.1 790.6L1045.7 810.9H1034.9V887.8H1015.3V810.9H1004.5Z" fill="#0000ff"/>
<path d="M1079.7 790.6L1100.3 810.9H1089.5V887.8H1069.9V810.9H1059.1Z" fill="#0000ff"/>
<path d="M1322.1 790.6L1342.7 810.9H1331.9V887.8H1312.3V810.9H1301.5Z" fill="#0000ff"/>
<path d="M1373.3 790.6L1393.9 810.9H1383.1V887.8H1363.5V810.9H1352.7Z" fill="#0000ff"/>
<path d="M1428.1 790.6L1448.7 810.9H1437.9V887.8H1418.3V810.9H1407.5Z" fill="#0000ff"/>
<path d="M1024.0 624.2L1042.8 642.6H1033.1V720.0H1014.9V642.6H1005.2Z" fill="rgba(0,0,255,0.5)" stroke="#0000ff" stroke-width="2" stroke-dasharray="2 3.1"/>
<path d="M1372.7 624.2L1391.5 642.6H1381.8V720.0H1363.6V642.6H1353.9Z" fill="rgba(0,0,255,0.5)" stroke="#0000ff" stroke-width="2" stroke-dasharray="2 3.1"/>
<path d="M1121.3 838.8L1289.7 680.2" stroke="#ff0000" stroke-width="3.4" stroke-dasharray="3.3 3.4" fill="none"/>
<path d="M1115.2 844.6L1126.0 840.7L1119.7 834.1Z" fill="#ff0000"/>
<path d="M1295.8 674.4L1291.3 684.9L1285.0 678.3Z" fill="#ff0000"/>
<path d="M1300.9 683.0L1300.9 836.4" stroke="#ff0000" stroke-width="3.4" stroke-dasharray="3.3 3.4" fill="none"/>
<path d="M1300.9 674.6L1296.3 685.1L1305.5 685.1Z" fill="#ff0000"/>
<path d="M1300.9 844.8L1296.3 834.3L1305.5 834.3Z" fill="#ff0000"/>
<text x="883.5" y="694.6" font-size="46" font-weight="bold" font-style="italic" fill="#000">e<tspan font-size="30" dy="11.5">g</tspan></text>
<text x="1482.3" y="694.6" font-size="46" font-weight="bold" font-style="italic" fill="#000">e<tspan font-size="30" dy="11.5">g</tspan></text>
<text x="870.5" y="860.8" font-size="46" font-weight="bold" font-style="italic" fill="#000">t<tspan font-size="30" dy="9.5">2g</tspan></text>
<text x="1479.5" y="860.8" font-size="46" font-weight="bold" font-style="italic" fill="#000">t<tspan font-size="30" dy="9.5">2g</tspan></text>
<text x="1131" y="760.3" font-size="47" font-style="italic" fill="#111">E<tspan font-size="32" dy="10.5">ex</tspan></text>
<text x="1323.5" y="760.3" font-size="47" font-style="italic" fill="#111">E<tspan font-size="32" dy="10.5">c</tspan></text>
<text x="1023.2" y="952.4" font-size="39.5" font-weight="bold" text-anchor="middle" fill="#000" textLength="63.5" lengthAdjust="spacingAndGlyphs">Cr1</text>
<text x="1374" y="952.4" font-size="39.5" font-weight="bold" text-anchor="middle" fill="#000" textLength="65" lengthAdjust="spacingAndGlyphs">Cr2</text>
<text x="1042.2" y="1043.6" font-size="58" fill="#0a0a0a" textLength="308.5" lengthAdjust="spacingAndGlyphs">FM-coupling</text>
</svg>
</body></html>
